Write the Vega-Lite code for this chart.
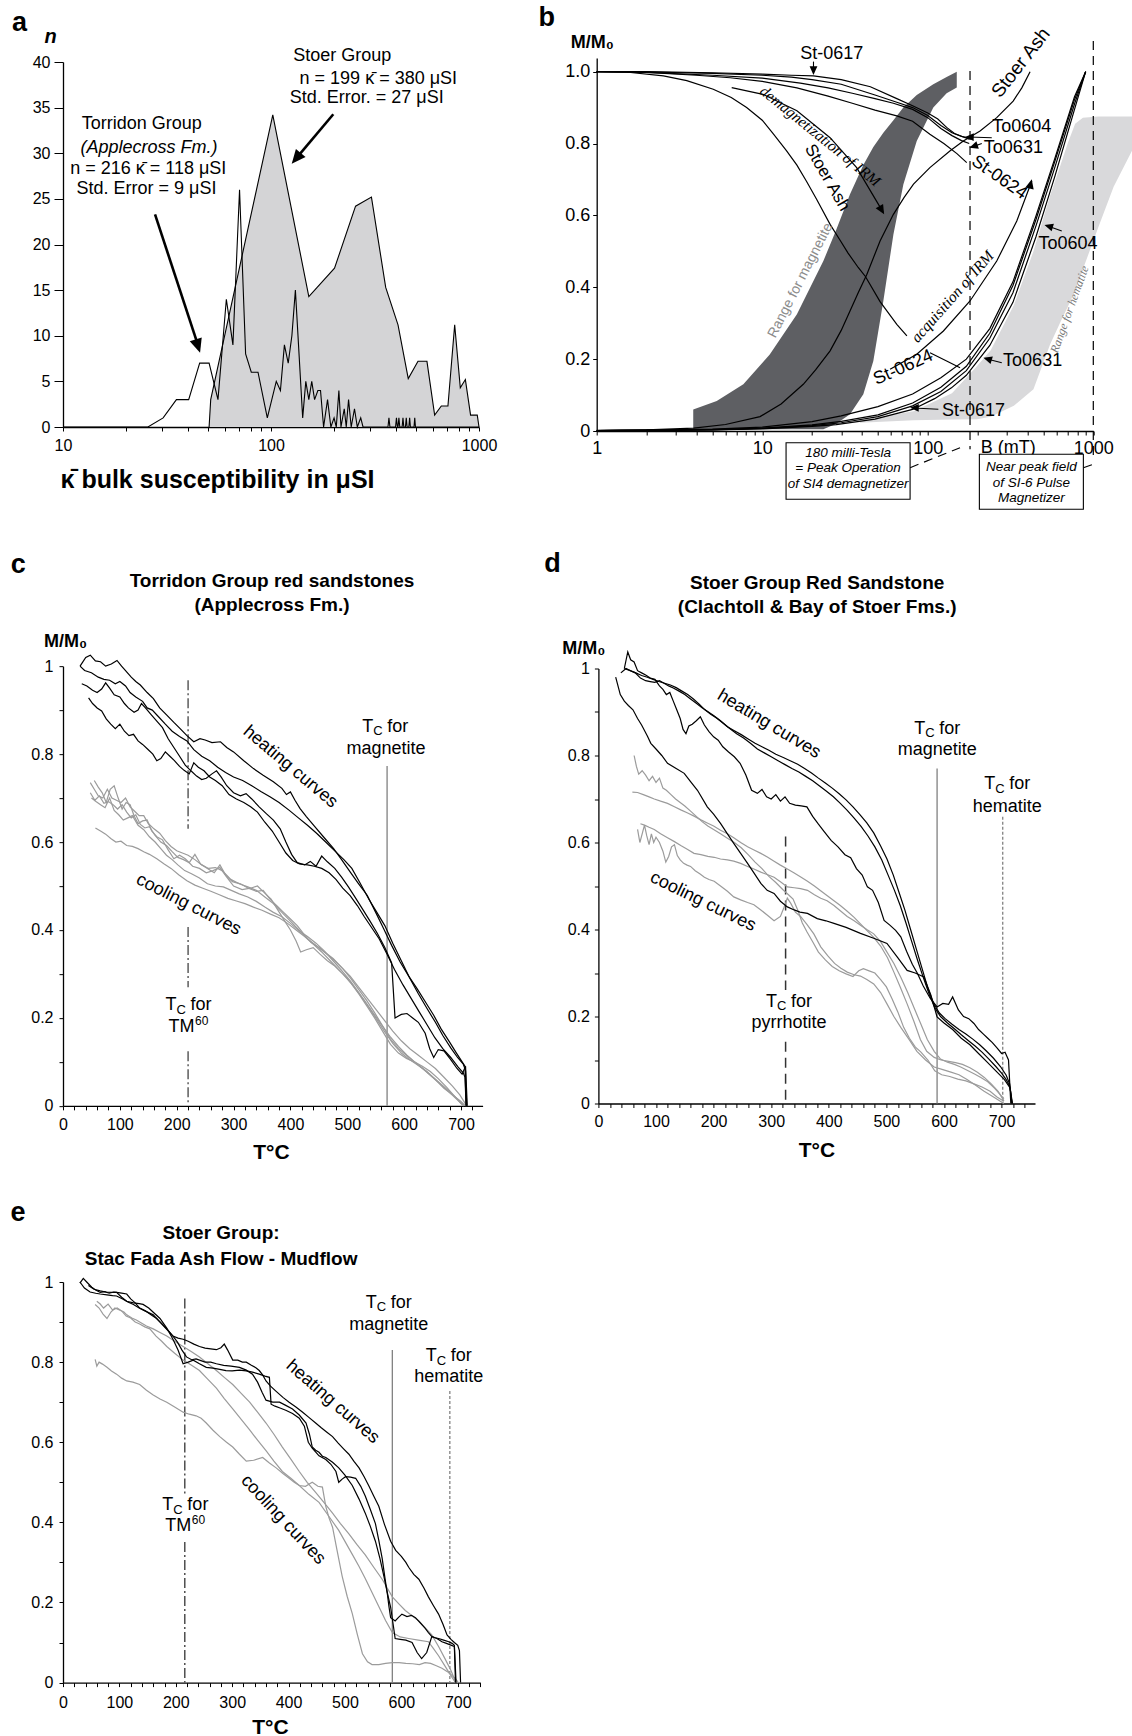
{
"$schema": "https://vega.github.io/schema/vega-lite/v6.json",
"padding": {"left": 10, "top": 4, "right": 0, "bottom": 4},
"config": {
 "view": {"stroke": null},
 "font": "Liberation Sans",
 "axis": {"labelFont": "Liberation Sans", "titleFont": "Liberation Sans", "labelFontSize": 16, "labelColor": "#000", "titleColor": "#000", "domainColor": "#000", "tickColor": "#000", "domainWidth": 1.3, "tickWidth": 1, "grid": false, "labelFlush": false, "labelOverlap": false, "labelBound": false, "titleFontWeight": "bold"},
 "text": {"font": "Liberation Sans", "fontSize": 18, "color": "#000"}
},
"datasets": {
 "aStoer": [{"x":50.4,"y":0},{"x":51.3,"y":3},{"x":102,"y":34.2},{"x":152,"y":14.3},{"x":202,"y":17.4},{"x":255,"y":24.2},{"x":304,"y":25.2},{"x":356,"y":15.3},{"x":408,"y":11.2},{"x":457,"y":5.3},{"x":509,"y":7.2},{"x":562,"y":7.2},{"x":612,"y":1.3},{"x":659,"y":2.3},{"x":709,"y":2.3},{"x":764,"y":11.2},{"x":813,"y":4.3},{"x":860,"y":5.2},{"x":911,"y":1.3},{"x":981,"y":1.3},{"x":1000,"y":0}],
 "aTorr": [{"x":10,"y":0},{"x":25.6,"y":0},{"x":30.3,"y":1},{"x":35.1,"y":3},{"x":40.2,"y":3},{"x":45.4,"y":7},{"x":50.4,"y":7},{"x":55.6,"y":3},{"x":61,"y":14},{"x":65.6,"y":9},{"x":70.6,"y":26},{"x":75.5,"y":8},{"x":80.4,"y":6},{"x":86.6,"y":6},{"x":96,"y":1},{"x":106,"y":5},{"x":111,"y":4},{"x":116,"y":9},{"x":121,"y":7},{"x":126,"y":10},{"x":131,"y":15},{"x":142,"y":1},{"x":147,"y":5},{"x":152,"y":3},{"x":157,"y":5},{"x":162,"y":3},{"x":168,"y":4},{"x":173,"y":4},{"x":179,"y":0},{"x":187,"y":3},{"x":194,"y":0},{"x":201,"y":1},{"x":206,"y":0},{"x":212,"y":4},{"x":217,"y":0},{"x":225,"y":2},{"x":230,"y":0},{"x":236,"y":3},{"x":243,"y":0},{"x":252,"y":2},{"x":260,"y":0},{"x":270,"y":1},{"x":277,"y":0},{"x":365,"y":0},{"x":369,"y":1},{"x":373,"y":0},{"x":397,"y":0},{"x":401,"y":1},{"x":405,"y":0},{"x":408,"y":0},{"x":412,"y":1},{"x":416,"y":0},{"x":427,"y":0},{"x":431,"y":1},{"x":435,"y":0},{"x":443,"y":0},{"x":447,"y":1},{"x":451,"y":0},{"x":460,"y":0},{"x":464,"y":1},{"x":468,"y":0},{"x":487,"y":0},{"x":491,"y":1},{"x":495,"y":0},{"x":1000,"y":0}],
 "bMag": [{"x":3.83,"y":0.06,"y2":0.005},{"x":5.31,"y":0.0835,"y2":0.005},{"x":7.69,"y":0.13,"y2":0.005},{"x":11.1,"y":0.213,"y2":0.005},{"x":16.2,"y":0.325,"y2":0.005},{"x":23.4,"y":0.473,"y2":0.005},{"x":28,"y":0.56,"y2":0.02},{"x":33.9,"y":0.659,"y2":0.0464},{"x":40.8,"y":0.74,"y2":0.102},{"x":46.9,"y":0.79,"y2":0.195},{"x":53.9,"y":0.83,"y2":0.362},{"x":62,"y":0.865,"y2":0.547},{"x":71.2,"y":0.9,"y2":0.686},{"x":85.8,"y":0.935,"y2":0.807},{"x":108,"y":0.965,"y2":0.9},{"x":130,"y":0.985,"y2":0.94},{"x":149.7,"y":1.0,"y2":0.956}],
 "bHem": [{"x":39,"y":0.03,"y2":0.023},{"x":82,"y":0.055,"y2":0.03},{"x":140,"y":0.105,"y2":0.032},{"x":198,"y":0.18,"y2":0.033},{"x":240,"y":0.225,"y2":0.04},{"x":331,"y":0.35,"y2":0.07},{"x":435,"y":0.5,"y2":0.116},{"x":548,"y":0.655,"y2":0.241},{"x":628,"y":0.735,"y2":0.3},{"x":700,"y":0.8,"y2":0.345},{"x":777,"y":0.855,"y2":0.39},{"x":865,"y":0.872,"y2":0.45},{"x":1071,"y":0.875,"y2":0.566},{"x":1327,"y":0.875,"y2":0.68},{"x":1714,"y":0.875,"y2":0.78}],
 "bCurves": [
  {"id":"d1","x":1,"y":1.0},{"id":"d1","x":2,"y":1.0},{"id":"d1","x":5,"y":0.997},{"id":"d1","x":10,"y":0.993},{"id":"d1","x":15,"y":0.99},{"id":"d1","x":20.4,"y":0.988},{"id":"d1","x":30,"y":0.978},{"id":"d1","x":45,"y":0.958},{"id":"d1","x":65,"y":0.925},{"id":"d1","x":81,"y":0.905},{"id":"d1","x":100,"y":0.885},{"id":"d1","x":115,"y":0.868},{"id":"d1","x":130,"y":0.845},{"id":"d1","x":145,"y":0.828},{"id":"d1","x":164,"y":0.818},{"id":"d1","x":178,"y":0.812},
  {"id":"d2","x":1,"y":1.0},{"id":"d2","x":2,"y":0.999},{"id":"d2","x":5,"y":0.995},{"id":"d2","x":10,"y":0.99},{"id":"d2","x":15,"y":0.985},{"id":"d2","x":20,"y":0.978},{"id":"d2","x":30,"y":0.965},{"id":"d2","x":48,"y":0.935},{"id":"d2","x":65,"y":0.915},{"id":"d2","x":81,"y":0.9},{"id":"d2","x":100,"y":0.878},{"id":"d2","x":120,"y":0.85},{"id":"d2","x":140,"y":0.83},{"id":"d2","x":160,"y":0.82},{"id":"d2","x":178,"y":0.815},
  {"id":"d3","x":1,"y":1.0},{"id":"d3","x":2,"y":0.998},{"id":"d3","x":5,"y":0.99},{"id":"d3","x":10,"y":0.982},{"id":"d3","x":17,"y":0.968},{"id":"d3","x":25,"y":0.955},{"id":"d3","x":35,"y":0.94},{"id":"d3","x":48,"y":0.925},{"id":"d3","x":62,"y":0.912},{"id":"d3","x":81,"y":0.895},{"id":"d3","x":100,"y":0.872},{"id":"d3","x":120,"y":0.842},{"id":"d3","x":140,"y":0.822},{"id":"d3","x":160,"y":0.808},{"id":"d3","x":178,"y":0.8},
  {"id":"d4","x":1,"y":1.0},{"id":"d4","x":2,"y":0.998},{"id":"d4","x":4,"y":0.99},{"id":"d4","x":6.4,"y":0.983},{"id":"d4","x":10,"y":0.973},{"id":"d4","x":16.2,"y":0.955},{"id":"d4","x":25,"y":0.932},{"id":"d4","x":35,"y":0.912},{"id":"d4","x":48,"y":0.893},{"id":"d4","x":65,"y":0.877},{"id":"d4","x":81,"y":0.862},{"id":"d4","x":103,"y":0.826},{"id":"d4","x":125,"y":0.8},{"id":"d4","x":150,"y":0.772},{"id":"d4","x":172,"y":0.747},
  {"id":"d5","x":1,"y":1.0},{"id":"d5","x":1.5,"y":0.999},{"id":"d5","x":2.53,"y":0.988},{"id":"d5","x":3.5,"y":0.975},{"id":"d5","x":5.06,"y":0.951},{"id":"d5","x":6.5,"y":0.928},{"id":"d5","x":8.05,"y":0.9},{"id":"d5","x":10,"y":0.865},{"id":"d5","x":11.7,"y":0.826},{"id":"d5","x":14,"y":0.78},{"id":"d5","x":16.2,"y":0.74},{"id":"d5","x":18.5,"y":0.695},{"id":"d5","x":21.3,"y":0.645},{"id":"d5","x":25.7,"y":0.575},{"id":"d5","x":29.6,"y":0.53},{"id":"d5","x":33,"y":0.495},{"id":"d5","x":38,"y":0.455},{"id":"d5","x":42,"y":0.43},{"id":"d5","x":51.5,"y":0.36},{"id":"d5","x":65,"y":0.297},{"id":"d5","x":74.8,"y":0.265},
  {"id":"a1","x":1,"y":0.001},{"id":"a1","x":3,"y":0.002},{"id":"a1","x":5,"y":0.003},{"id":"a1","x":10,"y":0.006},{"id":"a1","x":20,"y":0.013},{"id":"a1","x":28,"y":0.018},{"id":"a1","x":48,"y":0.033},{"id":"a1","x":81,"y":0.06},{"id":"a1","x":110,"y":0.09},{"id":"a1","x":139,"y":0.12},{"id":"a1","x":171,"y":0.155},{"id":"a1","x":237,"y":0.238},{"id":"a1","x":327,"y":0.358},{"id":"a1","x":450,"y":0.54},{"id":"a1","x":587,"y":0.71},{"id":"a1","x":770,"y":0.895},{"id":"a1","x":899,"y":1.0},
  {"id":"a2","x":1,"y":0.001},{"id":"a2","x":5,"y":0.003},{"id":"a2","x":10,"y":0.007},{"id":"a2","x":20,"y":0.015},{"id":"a2","x":30,"y":0.023},{"id":"a2","x":50,"y":0.04},{"id":"a2","x":81,"y":0.07},{"id":"a2","x":120,"y":0.11},{"id":"a2","x":171,"y":0.168},{"id":"a2","x":237,"y":0.258},{"id":"a2","x":327,"y":0.385},{"id":"a2","x":450,"y":0.57},{"id":"a2","x":587,"y":0.735},{"id":"a2","x":770,"y":0.91},{"id":"a2","x":899,"y":1.0},
  {"id":"a3","x":1,"y":0.001},{"id":"a3","x":5,"y":0.004},{"id":"a3","x":10,"y":0.008},{"id":"a3","x":20,"y":0.017},{"id":"a3","x":30,"y":0.027},{"id":"a3","x":50,"y":0.045},{"id":"a3","x":81,"y":0.078},{"id":"a3","x":120,"y":0.122},{"id":"a3","x":171,"y":0.18},{"id":"a3","x":237,"y":0.272},{"id":"a3","x":327,"y":0.405},{"id":"a3","x":450,"y":0.588},{"id":"a3","x":587,"y":0.752},{"id":"a3","x":770,"y":0.922},{"id":"a3","x":899,"y":1.0},
  {"id":"a4","x":1,"y":0.001},{"id":"a4","x":5,"y":0.005},{"id":"a4","x":10,"y":0.011},{"id":"a4","x":20,"y":0.026},{"id":"a4","x":30,"y":0.042},{"id":"a4","x":50,"y":0.068},{"id":"a4","x":81,"y":0.103},{"id":"a4","x":120,"y":0.148},{"id":"a4","x":171,"y":0.2},{"id":"a4","x":237,"y":0.285},{"id":"a4","x":327,"y":0.415},{"id":"a4","x":450,"y":0.598},{"id":"a4","x":587,"y":0.76},{"id":"a4","x":770,"y":0.93},{"id":"a4","x":899,"y":1.0},
  {"id":"a5","x":1,"y":0.002},{"id":"a5","x":2,"y":0.003},{"id":"a5","x":3.85,"y":0.008},{"id":"a5","x":6,"y":0.018},{"id":"a5","x":9.7,"y":0.04},{"id":"a5","x":13,"y":0.075},{"id":"a5","x":17.7,"y":0.13},{"id":"a5","x":21,"y":0.17},{"id":"a5","x":25.7,"y":0.223},{"id":"a5","x":30,"y":0.28},{"id":"a5","x":33.9,"y":0.334},{"id":"a5","x":38,"y":0.385},{"id":"a5","x":42.9,"y":0.436},{"id":"a5","x":51.5,"y":0.529},{"id":"a5","x":62,"y":0.603},{"id":"a5","x":72,"y":0.65},{"id":"a5","x":82,"y":0.687},{"id":"a5","x":103,"y":0.733},{"id":"a5","x":136,"y":0.779},{"id":"a5","x":164,"y":0.807},{"id":"a5","x":207,"y":0.835},{"id":"a5","x":261,"y":0.872},{"id":"a5","x":328,"y":0.918},{"id":"a5","x":370,"y":0.955},{"id":"a5","x":415,"y":1.0},
  {"id":"r1","x":6.54,"y":0.9555},{"id":"r1","x":10.1,"y":0.937},{"id":"r1","x":16.2,"y":0.891},{"id":"r1","x":25.7,"y":0.8163},{"id":"r1","x":37.2,"y":0.7328},{"id":"r1","x":53.9,"y":0.6076},
  {"id":"r2","x":59.2,"y":0.1717},{"id":"r2","x":85.8,"y":0.2135},{"id":"r2","x":124.3,"y":0.2783},{"id":"r2","x":180,"y":0.3618},{"id":"r2","x":261,"y":0.4731},{"id":"r2","x":345,"y":0.5845},{"id":"r2","x":425,"y":0.6958},
  {"id":"r3","x":103.2,"y":0.218},{"id":"r3","x":130,"y":0.195},{"id":"r3","x":156.7,"y":0.176}
 ],
 "cCurves": [
  {"id":"h1","x":30,"y":1.0},{"id":"h1","x":40,"y":1.02},{"id":"h1","x":48,"y":1.025},{"id":"h1","x":57,"y":1.012},{"id":"h1","x":66,"y":1.01},{"id":"h1","x":75,"y":1.0},{"id":"h1","x":85,"y":1.005},{"id":"h1","x":95,"y":1.013},{"id":"h1","x":103,"y":1.0},{"id":"h1","x":110,"y":0.99},{"id":"h1","x":120,"y":0.975},{"id":"h1","x":128,"y":0.965},{"id":"h1","x":136,"y":0.957},{"id":"h1","x":148,"y":0.94},{"id":"h1","x":159,"y":0.926},{"id":"h1","x":170,"y":0.905},{"id":"h1","x":183,"y":0.888},{"id":"h1","x":195,"y":0.872},{"id":"h1","x":206,"y":0.858},{"id":"h1","x":218,"y":0.842},{"id":"h1","x":230,"y":0.828},{"id":"h1","x":241,"y":0.835},{"id":"h1","x":250,"y":0.832},{"id":"h1","x":262,"y":0.826},{"id":"h1","x":277,"y":0.828},{"id":"h1","x":288,"y":0.815},{"id":"h1","x":300,"y":0.805},{"id":"h1","x":318,"y":0.785},{"id":"h1","x":335,"y":0.767},{"id":"h1","x":352,"y":0.752},{"id":"h1","x":370,"y":0.737},{"id":"h1","x":385,"y":0.722},{"id":"h1","x":393,"y":0.708},{"id":"h1","x":400,"y":0.714},{"id":"h1","x":408,"y":0.695},{"id":"h1","x":417,"y":0.676},{"id":"h1","x":428,"y":0.658},{"id":"h1","x":441,"y":0.638},{"id":"h1","x":458,"y":0.612},{"id":"h1","x":476,"y":0.585},{"id":"h1","x":490,"y":0.56},{"id":"h1","x":505,"y":0.532},{"id":"h1","x":520,"y":0.505},{"id":"h1","x":535,"y":0.479},{"id":"h1","x":550,"y":0.44},{"id":"h1","x":564,"y":0.403},{"id":"h1","x":578,"y":0.365},{"id":"h1","x":593,"y":0.327},{"id":"h1","x":608,"y":0.295},{"id":"h1","x":623,"y":0.266},{"id":"h1","x":638,"y":0.235},{"id":"h1","x":652,"y":0.206},{"id":"h1","x":665,"y":0.175},{"id":"h1","x":680,"y":0.145},{"id":"h1","x":692,"y":0.12},{"id":"h1","x":702,"y":0.1},{"id":"h1","x":707,"y":0.09},{"id":"h1","x":709,"y":0.0},
  {"id":"h2","x":30,"y":1.0},{"id":"h2","x":38,"y":0.99},{"id":"h2","x":50,"y":0.985},{"id":"h2","x":62,"y":0.975},{"id":"h2","x":72,"y":0.97},{"id":"h2","x":82,"y":0.968},{"id":"h2","x":92,"y":0.96},{"id":"h2","x":100,"y":0.965},{"id":"h2","x":110,"y":0.955},{"id":"h2","x":118,"y":0.94},{"id":"h2","x":128,"y":0.93},{"id":"h2","x":140,"y":0.92},{"id":"h2","x":148,"y":0.905},{"id":"h2","x":157,"y":0.9},{"id":"h2","x":168,"y":0.885},{"id":"h2","x":180,"y":0.868},{"id":"h2","x":192,"y":0.852},{"id":"h2","x":205,"y":0.84},{"id":"h2","x":218,"y":0.83},{"id":"h2","x":230,"y":0.81},{"id":"h2","x":244,"y":0.795},{"id":"h2","x":258,"y":0.785},{"id":"h2","x":272,"y":0.77},{"id":"h2","x":286,"y":0.758},{"id":"h2","x":300,"y":0.748},{"id":"h2","x":316,"y":0.74},{"id":"h2","x":332,"y":0.728},{"id":"h2","x":348,"y":0.715},{"id":"h2","x":364,"y":0.703},{"id":"h2","x":380,"y":0.69},{"id":"h2","x":398,"y":0.672},{"id":"h2","x":414,"y":0.655},{"id":"h2","x":430,"y":0.638},{"id":"h2","x":446,"y":0.62},{"id":"h2","x":462,"y":0.6},{"id":"h2","x":478,"y":0.58},{"id":"h2","x":494,"y":0.56},{"id":"h2","x":508,"y":0.54},{"id":"h2","x":522,"y":0.508},{"id":"h2","x":538,"y":0.47},{"id":"h2","x":552,"y":0.44},{"id":"h2","x":566,"y":0.41},{"id":"h2","x":580,"y":0.37},{"id":"h2","x":595,"y":0.33},{"id":"h2","x":610,"y":0.29},{"id":"h2","x":625,"y":0.255},{"id":"h2","x":640,"y":0.222},{"id":"h2","x":655,"y":0.19},{"id":"h2","x":668,"y":0.16},{"id":"h2","x":682,"y":0.132},{"id":"h2","x":694,"y":0.11},{"id":"h2","x":704,"y":0.095},{"id":"h2","x":708,"y":0.08},{"id":"h2","x":710,"y":0.0},
  {"id":"h3","x":33,"y":0.96},{"id":"h3","x":42,"y":0.955},{"id":"h3","x":52,"y":0.945},{"id":"h3","x":60,"y":0.94},{"id":"h3","x":68,"y":0.948},{"id":"h3","x":75,"y":0.962},{"id":"h3","x":82,"y":0.95},{"id":"h3","x":90,"y":0.935},{"id":"h3","x":100,"y":0.93},{"id":"h3","x":108,"y":0.915},{"id":"h3","x":115,"y":0.905},{"id":"h3","x":125,"y":0.895},{"id":"h3","x":132,"y":0.9},{"id":"h3","x":138,"y":0.915},{"id":"h3","x":145,"y":0.905},{"id":"h3","x":155,"y":0.89},{"id":"h3","x":165,"y":0.875},{"id":"h3","x":175,"y":0.86},{"id":"h3","x":185,"y":0.835},{"id":"h3","x":195,"y":0.815},{"id":"h3","x":205,"y":0.795},{"id":"h3","x":215,"y":0.775},{"id":"h3","x":225,"y":0.762},{"id":"h3","x":235,"y":0.75},{"id":"h3","x":244,"y":0.742},{"id":"h3","x":252,"y":0.745},{"id":"h3","x":262,"y":0.755},{"id":"h3","x":270,"y":0.762},{"id":"h3","x":278,"y":0.748},{"id":"h3","x":288,"y":0.728},{"id":"h3","x":300,"y":0.712},{"id":"h3","x":312,"y":0.705},{"id":"h3","x":322,"y":0.71},{"id":"h3","x":332,"y":0.698},{"id":"h3","x":345,"y":0.68},{"id":"h3","x":358,"y":0.664},{"id":"h3","x":370,"y":0.65},{"id":"h3","x":382,"y":0.63},{"id":"h3","x":392,"y":0.6},{"id":"h3","x":402,"y":0.572},{"id":"h3","x":412,"y":0.553},{"id":"h3","x":425,"y":0.548},{"id":"h3","x":435,"y":0.556},{"id":"h3","x":445,"y":0.545},{"id":"h3","x":455,"y":0.568},{"id":"h3","x":465,"y":0.555},{"id":"h3","x":478,"y":0.54},{"id":"h3","x":490,"y":0.52},{"id":"h3","x":502,"y":0.498},{"id":"h3","x":515,"y":0.472},{"id":"h3","x":528,"y":0.445},{"id":"h3","x":540,"y":0.42},{"id":"h3","x":553,"y":0.392},{"id":"h3","x":566,"y":0.36},{"id":"h3","x":578,"y":0.325},{"id":"h3","x":584,"y":0.2},{"id":"h3","x":595,"y":0.208},{"id":"h3","x":605,"y":0.21},{"id":"h3","x":615,"y":0.2},{"id":"h3","x":625,"y":0.19},{"id":"h3","x":637,"y":0.165},{"id":"h3","x":645,"y":0.13},{"id":"h3","x":652,"y":0.11},{"id":"h3","x":660,"y":0.128},{"id":"h3","x":670,"y":0.125},{"id":"h3","x":682,"y":0.105},{"id":"h3","x":693,"y":0.085},{"id":"h3","x":702,"y":0.072},{"id":"h3","x":708,"y":0.09},{"id":"h3","x":711,"y":0.0},
  {"id":"h4","x":45,"y":0.928},{"id":"h4","x":52,"y":0.915},{"id":"h4","x":60,"y":0.905},{"id":"h4","x":68,"y":0.898},{"id":"h4","x":76,"y":0.88},{"id":"h4","x":84,"y":0.868},{"id":"h4","x":92,"y":0.858},{"id":"h4","x":100,"y":0.868},{"id":"h4","x":108,"y":0.852},{"id":"h4","x":116,"y":0.842},{"id":"h4","x":124,"y":0.845},{"id":"h4","x":132,"y":0.83},{"id":"h4","x":140,"y":0.822},{"id":"h4","x":150,"y":0.81},{"id":"h4","x":158,"y":0.8},{"id":"h4","x":165,"y":0.785},{"id":"h4","x":172,"y":0.79},{"id":"h4","x":180,"y":0.805},{"id":"h4","x":188,"y":0.795},{"id":"h4","x":196,"y":0.785},{"id":"h4","x":205,"y":0.772},{"id":"h4","x":213,"y":0.763},{"id":"h4","x":222,"y":0.755},{"id":"h4","x":230,"y":0.78},{"id":"h4","x":238,"y":0.77},{"id":"h4","x":248,"y":0.762},{"id":"h4","x":258,"y":0.748},{"id":"h4","x":268,"y":0.74},{"id":"h4","x":280,"y":0.728},{"id":"h4","x":292,"y":0.708},{"id":"h4","x":305,"y":0.698},{"id":"h4","x":318,"y":0.69},{"id":"h4","x":330,"y":0.68},{"id":"h4","x":342,"y":0.668},{"id":"h4","x":355,"y":0.645},{"id":"h4","x":368,"y":0.625},{"id":"h4","x":380,"y":0.6},{"id":"h4","x":392,"y":0.575},{"id":"h4","x":404,"y":0.558},{"id":"h4","x":416,"y":0.55},{"id":"h4","x":430,"y":0.548},{"id":"h4","x":442,"y":0.545},{"id":"h4","x":455,"y":0.54},{"id":"h4","x":468,"y":0.53},{"id":"h4","x":480,"y":0.515},{"id":"h4","x":492,"y":0.495},{"id":"h4","x":505,"y":0.478},{"id":"h4","x":518,"y":0.455},{"id":"h4","x":530,"y":0.43},{"id":"h4","x":543,"y":0.405},{"id":"h4","x":556,"y":0.38},{"id":"h4","x":570,"y":0.345},{"id":"h4","x":583,"y":0.31},{"id":"h4","x":598,"y":0.275},{"id":"h4","x":612,"y":0.245},{"id":"h4","x":626,"y":0.215},{"id":"h4","x":640,"y":0.185},{"id":"h4","x":654,"y":0.155},{"id":"h4","x":668,"y":0.13},{"id":"h4","x":682,"y":0.11},{"id":"h4","x":695,"y":0.088},{"id":"h4","x":704,"y":0.075},{"id":"h4","x":707,"y":0.065},{"id":"h4","x":709,"y":0.0},
  {"id":"g1","x":48,"y":0.735},{"id":"g1","x":55,"y":0.72},{"id":"g1","x":62,"y":0.705},{"id":"g1","x":70,"y":0.7},{"id":"g1","x":78,"y":0.72},{"id":"g1","x":86,"y":0.7},{"id":"g1","x":94,"y":0.695},{"id":"g1","x":102,"y":0.69},{"id":"g1","x":110,"y":0.7},{"id":"g1","x":118,"y":0.68},{"id":"g1","x":126,"y":0.67},{"id":"g1","x":134,"y":0.66},{"id":"g1","x":142,"y":0.66},{"id":"g1","x":150,"y":0.642},{"id":"g1","x":160,"y":0.63},{"id":"g1","x":170,"y":0.62},{"id":"g1","x":180,"y":0.603},{"id":"g1","x":190,"y":0.59},{"id":"g1","x":200,"y":0.58},{"id":"g1","x":210,"y":0.575},{"id":"g1","x":220,"y":0.57},{"id":"g1","x":232,"y":0.56},{"id":"g1","x":244,"y":0.548},{"id":"g1","x":256,"y":0.54},{"id":"g1","x":268,"y":0.542},{"id":"g1","x":280,"y":0.535},{"id":"g1","x":295,"y":0.515},{"id":"g1","x":310,"y":0.505},{"id":"g1","x":325,"y":0.498},{"id":"g1","x":340,"y":0.49},{"id":"g1","x":355,"y":0.475},{"id":"g1","x":370,"y":0.46},{"id":"g1","x":385,"y":0.44},{"id":"g1","x":400,"y":0.42},{"id":"g1","x":415,"y":0.4},{"id":"g1","x":430,"y":0.38},{"id":"g1","x":445,"y":0.365},{"id":"g1","x":460,"y":0.35},{"id":"g1","x":475,"y":0.335},{"id":"g1","x":490,"y":0.315},{"id":"g1","x":505,"y":0.295},{"id":"g1","x":520,"y":0.27},{"id":"g1","x":535,"y":0.245},{"id":"g1","x":550,"y":0.22},{"id":"g1","x":565,"y":0.195},{"id":"g1","x":580,"y":0.17},{"id":"g1","x":595,"y":0.148},{"id":"g1","x":610,"y":0.13},{"id":"g1","x":625,"y":0.115},{"id":"g1","x":640,"y":0.1},{"id":"g1","x":655,"y":0.085},{"id":"g1","x":670,"y":0.065},{"id":"g1","x":685,"y":0.045},{"id":"g1","x":698,"y":0.025},{"id":"g1","x":710,"y":0.0},
  {"id":"g2","x":55,"y":0.74},{"id":"g2","x":62,"y":0.725},{"id":"g2","x":69,"y":0.712},{"id":"g2","x":76,"y":0.69},{"id":"g2","x":83,"y":0.72},{"id":"g2","x":90,"y":0.728},{"id":"g2","x":97,"y":0.7},{"id":"g2","x":104,"y":0.675},{"id":"g2","x":111,"y":0.69},{"id":"g2","x":118,"y":0.685},{"id":"g2","x":125,"y":0.66},{"id":"g2","x":132,"y":0.642},{"id":"g2","x":140,"y":0.648},{"id":"g2","x":148,"y":0.65},{"id":"g2","x":156,"y":0.625},{"id":"g2","x":165,"y":0.612},{"id":"g2","x":175,"y":0.605},{"id":"g2","x":185,"y":0.582},{"id":"g2","x":195,"y":0.562},{"id":"g2","x":205,"y":0.57},{"id":"g2","x":215,"y":0.562},{"id":"g2","x":228,"y":0.545},{"id":"g2","x":240,"y":0.54},{"id":"g2","x":252,"y":0.53},{"id":"g2","x":264,"y":0.535},{"id":"g2","x":276,"y":0.542},{"id":"g2","x":288,"y":0.52},{"id":"g2","x":300,"y":0.5},{"id":"g2","x":315,"y":0.492},{"id":"g2","x":330,"y":0.495},{"id":"g2","x":342,"y":0.5},{"id":"g2","x":354,"y":0.485},{"id":"g2","x":366,"y":0.47},{"id":"g2","x":378,"y":0.445},{"id":"g2","x":390,"y":0.42},{"id":"g2","x":400,"y":0.4},{"id":"g2","x":410,"y":0.375},{"id":"g2","x":418,"y":0.35},{"id":"g2","x":428,"y":0.355},{"id":"g2","x":440,"y":0.36},{"id":"g2","x":452,"y":0.345},{"id":"g2","x":465,"y":0.33},{"id":"g2","x":478,"y":0.318},{"id":"g2","x":492,"y":0.3},{"id":"g2","x":506,"y":0.28},{"id":"g2","x":520,"y":0.255},{"id":"g2","x":534,"y":0.228},{"id":"g2","x":548,"y":0.2},{"id":"g2","x":562,"y":0.17},{"id":"g2","x":576,"y":0.14},{"id":"g2","x":590,"y":0.12},{"id":"g2","x":604,"y":0.108},{"id":"g2","x":618,"y":0.1},{"id":"g2","x":632,"y":0.09},{"id":"g2","x":646,"y":0.078},{"id":"g2","x":660,"y":0.062},{"id":"g2","x":675,"y":0.042},{"id":"g2","x":690,"y":0.02},{"id":"g2","x":700,"y":0.005},{"id":"g2","x":705,"y":0.0},
  {"id":"g3","x":50,"y":0.7},{"id":"g3","x":58,"y":0.692},{"id":"g3","x":66,"y":0.685},{"id":"g3","x":74,"y":0.678},{"id":"g3","x":82,"y":0.7},{"id":"g3","x":90,"y":0.672},{"id":"g3","x":98,"y":0.662},{"id":"g3","x":106,"y":0.65},{"id":"g3","x":114,"y":0.655},{"id":"g3","x":122,"y":0.66},{"id":"g3","x":132,"y":0.638},{"id":"g3","x":142,"y":0.628},{"id":"g3","x":152,"y":0.612},{"id":"g3","x":162,"y":0.6},{"id":"g3","x":172,"y":0.585},{"id":"g3","x":182,"y":0.57},{"id":"g3","x":192,"y":0.56},{"id":"g3","x":202,"y":0.548},{"id":"g3","x":214,"y":0.535},{"id":"g3","x":226,"y":0.528},{"id":"g3","x":240,"y":0.518},{"id":"g3","x":254,"y":0.505},{"id":"g3","x":268,"y":0.5},{"id":"g3","x":282,"y":0.498},{"id":"g3","x":296,"y":0.49},{"id":"g3","x":310,"y":0.482},{"id":"g3","x":325,"y":0.475},{"id":"g3","x":340,"y":0.465},{"id":"g3","x":355,"y":0.452},{"id":"g3","x":370,"y":0.44},{"id":"g3","x":385,"y":0.43},{"id":"g3","x":400,"y":0.415},{"id":"g3","x":415,"y":0.398},{"id":"g3","x":430,"y":0.385},{"id":"g3","x":445,"y":0.37},{"id":"g3","x":460,"y":0.352},{"id":"g3","x":475,"y":0.33},{"id":"g3","x":490,"y":0.308},{"id":"g3","x":505,"y":0.285},{"id":"g3","x":520,"y":0.258},{"id":"g3","x":535,"y":0.23},{"id":"g3","x":550,"y":0.2},{"id":"g3","x":565,"y":0.17},{"id":"g3","x":580,"y":0.142},{"id":"g3","x":595,"y":0.12},{"id":"g3","x":610,"y":0.105},{"id":"g3","x":625,"y":0.092},{"id":"g3","x":640,"y":0.078},{"id":"g3","x":655,"y":0.06},{"id":"g3","x":670,"y":0.04},{"id":"g3","x":685,"y":0.025},{"id":"g3","x":700,"y":0.01},{"id":"g3","x":708,"y":0.0},
  {"id":"g4","x":57,"y":0.632},{"id":"g4","x":66,"y":0.625},{"id":"g4","x":75,"y":0.618},{"id":"g4","x":84,"y":0.608},{"id":"g4","x":93,"y":0.6},{"id":"g4","x":102,"y":0.602},{"id":"g4","x":112,"y":0.592},{"id":"g4","x":122,"y":0.59},{"id":"g4","x":132,"y":0.585},{"id":"g4","x":142,"y":0.578},{"id":"g4","x":152,"y":0.572},{"id":"g4","x":165,"y":0.562},{"id":"g4","x":178,"y":0.55},{"id":"g4","x":190,"y":0.54},{"id":"g4","x":204,"y":0.525},{"id":"g4","x":218,"y":0.512},{"id":"g4","x":232,"y":0.502},{"id":"g4","x":246,"y":0.495},{"id":"g4","x":260,"y":0.488},{"id":"g4","x":275,"y":0.48},{"id":"g4","x":290,"y":0.472},{"id":"g4","x":305,"y":0.466},{"id":"g4","x":320,"y":0.46},{"id":"g4","x":335,"y":0.452},{"id":"g4","x":350,"y":0.445},{"id":"g4","x":365,"y":0.436},{"id":"g4","x":380,"y":0.428},{"id":"g4","x":395,"y":0.415},{"id":"g4","x":410,"y":0.4},{"id":"g4","x":425,"y":0.385},{"id":"g4","x":440,"y":0.368},{"id":"g4","x":455,"y":0.35},{"id":"g4","x":470,"y":0.33},{"id":"g4","x":485,"y":0.31},{"id":"g4","x":500,"y":0.29},{"id":"g4","x":515,"y":0.265},{"id":"g4","x":530,"y":0.24},{"id":"g4","x":545,"y":0.212},{"id":"g4","x":560,"y":0.185},{"id":"g4","x":575,"y":0.158},{"id":"g4","x":590,"y":0.135},{"id":"g4","x":605,"y":0.115},{"id":"g4","x":620,"y":0.098},{"id":"g4","x":635,"y":0.082},{"id":"g4","x":650,"y":0.065},{"id":"g4","x":665,"y":0.048},{"id":"g4","x":680,"y":0.03},{"id":"g4","x":695,"y":0.012},{"id":"g4","x":705,"y":0.0},
  {"id":"g5","x":48,"y":0.712},{"id":"g5","x":56,"y":0.695},{"id":"g5","x":64,"y":0.705},{"id":"g5","x":72,"y":0.688},{"id":"g5","x":80,"y":0.692},{"id":"g5","x":88,"y":0.685},{"id":"g5","x":96,"y":0.675},{"id":"g5","x":104,"y":0.685},{"id":"g5","x":112,"y":0.668},{"id":"g5","x":120,"y":0.655},{"id":"g5","x":128,"y":0.662},{"id":"g5","x":136,"y":0.64},{"id":"g5","x":144,"y":0.632},{"id":"g5","x":152,"y":0.635},{"id":"g5","x":162,"y":0.615},{"id":"g5","x":172,"y":0.6},{"id":"g5","x":182,"y":0.592},{"id":"g5","x":192,"y":0.578},{"id":"g5","x":202,"y":0.565},{"id":"g5","x":212,"y":0.56},{"id":"g5","x":222,"y":0.553},{"id":"g5","x":232,"y":0.572},{"id":"g5","x":242,"y":0.55},{"id":"g5","x":254,"y":0.54},{"id":"g5","x":266,"y":0.53},{"id":"g5","x":276,"y":0.548},{"id":"g5","x":286,"y":0.525},{"id":"g5","x":298,"y":0.51},{"id":"g5","x":312,"y":0.505},{"id":"g5","x":326,"y":0.495},{"id":"g5","x":340,"y":0.488},{"id":"g5","x":352,"y":0.49},{"id":"g5","x":364,"y":0.47},{"id":"g5","x":376,"y":0.455},{"id":"g5","x":388,"y":0.44},{"id":"g5","x":400,"y":0.425},{"id":"g5","x":412,"y":0.41},{"id":"g5","x":424,"y":0.39},{"id":"g5","x":436,"y":0.372},{"id":"g5","x":450,"y":0.36},{"id":"g5","x":464,"y":0.345},{"id":"g5","x":478,"y":0.33},{"id":"g5","x":492,"y":0.312},{"id":"g5","x":506,"y":0.29},{"id":"g5","x":520,"y":0.265},{"id":"g5","x":534,"y":0.24},{"id":"g5","x":548,"y":0.212},{"id":"g5","x":562,"y":0.182},{"id":"g5","x":576,"y":0.152},{"id":"g5","x":590,"y":0.13},{"id":"g5","x":604,"y":0.115},{"id":"g5","x":618,"y":0.1},{"id":"g5","x":632,"y":0.086},{"id":"g5","x":646,"y":0.07},{"id":"g5","x":660,"y":0.055},{"id":"g5","x":675,"y":0.038},{"id":"g5","x":690,"y":0.02},{"id":"g5","x":706,"y":0.0}
 ],
 "dCurves": [
  {"id":"h1","x":30,"y":0.98},{"id":"h1","x":38,"y":0.94},{"id":"h1","x":45,"y":0.925},{"id":"h1","x":52,"y":0.915},{"id":"h1","x":60,"y":0.905},{"id":"h1","x":68,"y":0.885},{"id":"h1","x":75,"y":0.87},{"id":"h1","x":85,"y":0.845},{"id":"h1","x":91,"y":0.828},{"id":"h1","x":100,"y":0.815},{"id":"h1","x":110,"y":0.8},{"id":"h1","x":120,"y":0.782},{"id":"h1","x":135,"y":0.77},{"id":"h1","x":149,"y":0.759},{"id":"h1","x":160,"y":0.74},{"id":"h1","x":172,"y":0.72},{"id":"h1","x":189,"y":0.682},{"id":"h1","x":200,"y":0.665},{"id":"h1","x":212,"y":0.644},{"id":"h1","x":224,"y":0.62},{"id":"h1","x":235,"y":0.598},{"id":"h1","x":247,"y":0.575},{"id":"h1","x":259,"y":0.552},{"id":"h1","x":270,"y":0.53},{"id":"h1","x":282,"y":0.506},{"id":"h1","x":293,"y":0.49},{"id":"h1","x":305,"y":0.483},{"id":"h1","x":316,"y":0.465},{"id":"h1","x":328,"y":0.452},{"id":"h1","x":340,"y":0.445},{"id":"h1","x":350,"y":0.44},{"id":"h1","x":363,"y":0.437},{"id":"h1","x":380,"y":0.425},{"id":"h1","x":395,"y":0.42},{"id":"h1","x":409,"y":0.414},{"id":"h1","x":430,"y":0.405},{"id":"h1","x":455,"y":0.391},{"id":"h1","x":478,"y":0.38},{"id":"h1","x":501,"y":0.368},{"id":"h1","x":520,"y":0.335},{"id":"h1","x":536,"y":0.306},{"id":"h1","x":550,"y":0.3},{"id":"h1","x":565,"y":0.291},{"id":"h1","x":577,"y":0.25},{"id":"h1","x":588,"y":0.199},{"id":"h1","x":600,"y":0.185},{"id":"h1","x":615,"y":0.17},{"id":"h1","x":630,"y":0.15},{"id":"h1","x":645,"y":0.135},{"id":"h1","x":660,"y":0.115},{"id":"h1","x":675,"y":0.095},{"id":"h1","x":690,"y":0.075},{"id":"h1","x":705,"y":0.055},{"id":"h1","x":715,"y":0.035},{"id":"h1","x":718,"y":0.0},
  {"id":"h2","x":39,"y":0.99},{"id":"h2","x":48,"y":1.0},{"id":"h2","x":56,"y":0.995},{"id":"h2","x":64,"y":0.99},{"id":"h2","x":73,"y":0.978},{"id":"h2","x":82,"y":0.972},{"id":"h2","x":90,"y":0.97},{"id":"h2","x":98,"y":0.968},{"id":"h2","x":106,"y":0.972},{"id":"h2","x":114,"y":0.966},{"id":"h2","x":122,"y":0.96},{"id":"h2","x":130,"y":0.955},{"id":"h2","x":140,"y":0.948},{"id":"h2","x":150,"y":0.94},{"id":"h2","x":160,"y":0.93},{"id":"h2","x":170,"y":0.92},{"id":"h2","x":180,"y":0.91},{"id":"h2","x":189,"y":0.902},{"id":"h2","x":200,"y":0.892},{"id":"h2","x":212,"y":0.88},{"id":"h2","x":224,"y":0.866},{"id":"h2","x":236,"y":0.857},{"id":"h2","x":248,"y":0.848},{"id":"h2","x":260,"y":0.838},{"id":"h2","x":272,"y":0.828},{"id":"h2","x":284,"y":0.82},{"id":"h2","x":296,"y":0.812},{"id":"h2","x":308,"y":0.803},{"id":"h2","x":320,"y":0.796},{"id":"h2","x":333,"y":0.788},{"id":"h2","x":346,"y":0.78},{"id":"h2","x":358,"y":0.77},{"id":"h2","x":370,"y":0.76},{"id":"h2","x":382,"y":0.748},{"id":"h2","x":394,"y":0.737},{"id":"h2","x":406,"y":0.725},{"id":"h2","x":418,"y":0.712},{"id":"h2","x":430,"y":0.698},{"id":"h2","x":442,"y":0.682},{"id":"h2","x":454,"y":0.664},{"id":"h2","x":466,"y":0.645},{"id":"h2","x":478,"y":0.622},{"id":"h2","x":490,"y":0.592},{"id":"h2","x":501,"y":0.562},{"id":"h2","x":512,"y":0.525},{"id":"h2","x":522,"y":0.485},{"id":"h2","x":532,"y":0.445},{"id":"h2","x":542,"y":0.4},{"id":"h2","x":552,"y":0.355},{"id":"h2","x":562,"y":0.31},{"id":"h2","x":572,"y":0.265},{"id":"h2","x":582,"y":0.23},{"id":"h2","x":592,"y":0.208},{"id":"h2","x":602,"y":0.195},{"id":"h2","x":614,"y":0.182},{"id":"h2","x":626,"y":0.17},{"id":"h2","x":638,"y":0.16},{"id":"h2","x":650,"y":0.148},{"id":"h2","x":662,"y":0.135},{"id":"h2","x":674,"y":0.12},{"id":"h2","x":686,"y":0.104},{"id":"h2","x":698,"y":0.085},{"id":"h2","x":708,"y":0.065},{"id":"h2","x":714,"y":0.045},{"id":"h2","x":718,"y":0.0},
  {"id":"h3","x":45,"y":1.0},{"id":"h3","x":51,"y":1.038},{"id":"h3","x":56,"y":1.02},{"id":"h3","x":62,"y":1.015},{"id":"h3","x":68,"y":0.995},{"id":"h3","x":75,"y":0.99},{"id":"h3","x":82,"y":0.985},{"id":"h3","x":90,"y":0.978},{"id":"h3","x":98,"y":0.975},{"id":"h3","x":106,"y":0.96},{"id":"h3","x":112,"y":0.952},{"id":"h3","x":118,"y":0.94},{"id":"h3","x":124,"y":0.945},{"id":"h3","x":130,"y":0.925},{"id":"h3","x":136,"y":0.905},{"id":"h3","x":142,"y":0.885},{"id":"h3","x":147,"y":0.86},{"id":"h3","x":152,"y":0.85},{"id":"h3","x":157,"y":0.868},{"id":"h3","x":163,"y":0.872},{"id":"h3","x":170,"y":0.88},{"id":"h3","x":177,"y":0.889},{"id":"h3","x":184,"y":0.87},{"id":"h3","x":192,"y":0.855},{"id":"h3","x":200,"y":0.843},{"id":"h3","x":208,"y":0.835},{"id":"h3","x":216,"y":0.82},{"id":"h3","x":226,"y":0.808},{"id":"h3","x":236,"y":0.797},{"id":"h3","x":246,"y":0.782},{"id":"h3","x":256,"y":0.755},{"id":"h3","x":266,"y":0.72},{"id":"h3","x":276,"y":0.713},{"id":"h3","x":284,"y":0.722},{"id":"h3","x":292,"y":0.705},{"id":"h3","x":300,"y":0.7},{"id":"h3","x":308,"y":0.71},{"id":"h3","x":316,"y":0.695},{"id":"h3","x":324,"y":0.705},{"id":"h3","x":332,"y":0.69},{"id":"h3","x":342,"y":0.686},{"id":"h3","x":352,"y":0.684},{"id":"h3","x":362,"y":0.682},{"id":"h3","x":372,"y":0.66},{"id":"h3","x":382,"y":0.642},{"id":"h3","x":392,"y":0.625},{"id":"h3","x":404,"y":0.605},{"id":"h3","x":416,"y":0.59},{"id":"h3","x":428,"y":0.572},{"id":"h3","x":438,"y":0.565},{"id":"h3","x":448,"y":0.54},{"id":"h3","x":458,"y":0.525},{"id":"h3","x":467,"y":0.498},{"id":"h3","x":476,"y":0.49},{"id":"h3","x":486,"y":0.462},{"id":"h3","x":496,"y":0.421},{"id":"h3","x":506,"y":0.41},{"id":"h3","x":516,"y":0.398},{"id":"h3","x":525,"y":0.383},{"id":"h3","x":535,"y":0.35},{"id":"h3","x":545,"y":0.32},{"id":"h3","x":554,"y":0.299},{"id":"h3","x":564,"y":0.27},{"id":"h3","x":576,"y":0.242},{"id":"h3","x":588,"y":0.222},{"id":"h3","x":598,"y":0.23},{"id":"h3","x":608,"y":0.228},{"id":"h3","x":615,"y":0.245},{"id":"h3","x":625,"y":0.215},{"id":"h3","x":634,"y":0.2},{"id":"h3","x":643,"y":0.195},{"id":"h3","x":652,"y":0.184},{"id":"h3","x":660,"y":0.17},{"id":"h3","x":668,"y":0.16},{"id":"h3","x":676,"y":0.15},{"id":"h3","x":684,"y":0.14},{"id":"h3","x":692,"y":0.128},{"id":"h3","x":700,"y":0.115},{"id":"h3","x":706,"y":0.118},{"id":"h3","x":712,"y":0.1},{"id":"h3","x":716,"y":0.0},
  {"id":"h4","x":45,"y":1.0},{"id":"h4","x":55,"y":0.995},{"id":"h4","x":65,"y":0.99},{"id":"h4","x":75,"y":0.984},{"id":"h4","x":85,"y":0.98},{"id":"h4","x":95,"y":0.975},{"id":"h4","x":105,"y":0.97},{"id":"h4","x":115,"y":0.966},{"id":"h4","x":125,"y":0.962},{"id":"h4","x":135,"y":0.956},{"id":"h4","x":145,"y":0.948},{"id":"h4","x":155,"y":0.94},{"id":"h4","x":165,"y":0.93},{"id":"h4","x":175,"y":0.918},{"id":"h4","x":185,"y":0.905},{"id":"h4","x":195,"y":0.895},{"id":"h4","x":205,"y":0.886},{"id":"h4","x":215,"y":0.876},{"id":"h4","x":228,"y":0.862},{"id":"h4","x":240,"y":0.85},{"id":"h4","x":252,"y":0.84},{"id":"h4","x":264,"y":0.828},{"id":"h4","x":276,"y":0.815},{"id":"h4","x":288,"y":0.806},{"id":"h4","x":300,"y":0.797},{"id":"h4","x":312,"y":0.788},{"id":"h4","x":324,"y":0.779},{"id":"h4","x":336,"y":0.77},{"id":"h4","x":348,"y":0.762},{"id":"h4","x":360,"y":0.752},{"id":"h4","x":372,"y":0.742},{"id":"h4","x":384,"y":0.73},{"id":"h4","x":396,"y":0.718},{"id":"h4","x":408,"y":0.705},{"id":"h4","x":420,"y":0.69},{"id":"h4","x":432,"y":0.674},{"id":"h4","x":444,"y":0.656},{"id":"h4","x":456,"y":0.637},{"id":"h4","x":468,"y":0.615},{"id":"h4","x":480,"y":0.59},{"id":"h4","x":492,"y":0.56},{"id":"h4","x":503,"y":0.525},{"id":"h4","x":514,"y":0.49},{"id":"h4","x":524,"y":0.455},{"id":"h4","x":534,"y":0.415},{"id":"h4","x":544,"y":0.372},{"id":"h4","x":554,"y":0.33},{"id":"h4","x":564,"y":0.29},{"id":"h4","x":574,"y":0.252},{"id":"h4","x":584,"y":0.22},{"id":"h4","x":594,"y":0.2},{"id":"h4","x":606,"y":0.185},{"id":"h4","x":618,"y":0.172},{"id":"h4","x":630,"y":0.158},{"id":"h4","x":642,"y":0.145},{"id":"h4","x":654,"y":0.132},{"id":"h4","x":666,"y":0.118},{"id":"h4","x":678,"y":0.102},{"id":"h4","x":690,"y":0.085},{"id":"h4","x":700,"y":0.07},{"id":"h4","x":708,"y":0.055},{"id":"h4","x":714,"y":0.04},{"id":"h4","x":719,"y":0.0},
  {"id":"g1","x":62,"y":0.8},{"id":"g1","x":66,"y":0.775},{"id":"g1","x":70,"y":0.757},{"id":"g1","x":76,"y":0.765},{"id":"g1","x":82,"y":0.755},{"id":"g1","x":88,"y":0.742},{"id":"g1","x":94,"y":0.752},{"id":"g1","x":100,"y":0.738},{"id":"g1","x":106,"y":0.748},{"id":"g1","x":112,"y":0.725},{"id":"g1","x":118,"y":0.72},{"id":"g1","x":126,"y":0.71},{"id":"g1","x":134,"y":0.7},{"id":"g1","x":142,"y":0.692},{"id":"g1","x":150,"y":0.684},{"id":"g1","x":160,"y":0.672},{"id":"g1","x":170,"y":0.66},{"id":"g1","x":180,"y":0.648},{"id":"g1","x":190,"y":0.638},{"id":"g1","x":200,"y":0.63},{"id":"g1","x":212,"y":0.62},{"id":"g1","x":224,"y":0.61},{"id":"g1","x":236,"y":0.6},{"id":"g1","x":248,"y":0.588},{"id":"g1","x":260,"y":0.572},{"id":"g1","x":272,"y":0.555},{"id":"g1","x":284,"y":0.54},{"id":"g1","x":296,"y":0.522},{"id":"g1","x":308,"y":0.508},{"id":"g1","x":320,"y":0.492},{"id":"g1","x":330,"y":0.48},{"id":"g1","x":338,"y":0.47},{"id":"g1","x":346,"y":0.445},{"id":"g1","x":354,"y":0.415},{"id":"g1","x":362,"y":0.395},{"id":"g1","x":372,"y":0.372},{"id":"g1","x":382,"y":0.348},{"id":"g1","x":394,"y":0.33},{"id":"g1","x":406,"y":0.315},{"id":"g1","x":418,"y":0.305},{"id":"g1","x":430,"y":0.298},{"id":"g1","x":442,"y":0.292},{"id":"g1","x":452,"y":0.305},{"id":"g1","x":460,"y":0.31},{"id":"g1","x":470,"y":0.305},{"id":"g1","x":480,"y":0.3},{"id":"g1","x":490,"y":0.285},{"id":"g1","x":500,"y":0.268},{"id":"g1","x":510,"y":0.24},{"id":"g1","x":520,"y":0.21},{"id":"g1","x":530,"y":0.175},{"id":"g1","x":540,"y":0.15},{"id":"g1","x":550,"y":0.13},{"id":"g1","x":560,"y":0.118},{"id":"g1","x":572,"y":0.1},{"id":"g1","x":584,"y":0.075},{"id":"g1","x":596,"y":0.066},{"id":"g1","x":610,"y":0.062},{"id":"g1","x":624,"y":0.056},{"id":"g1","x":638,"y":0.052},{"id":"g1","x":652,"y":0.045},{"id":"g1","x":666,"y":0.038},{"id":"g1","x":680,"y":0.028},{"id":"g1","x":692,"y":0.015},{"id":"g1","x":704,"y":0.005},
  {"id":"g2","x":59,"y":0.716},{"id":"g2","x":68,"y":0.715},{"id":"g2","x":78,"y":0.71},{"id":"g2","x":88,"y":0.705},{"id":"g2","x":97,"y":0.7},{"id":"g2","x":108,"y":0.695},{"id":"g2","x":120,"y":0.69},{"id":"g2","x":132,"y":0.682},{"id":"g2","x":143,"y":0.675},{"id":"g2","x":155,"y":0.668},{"id":"g2","x":167,"y":0.66},{"id":"g2","x":178,"y":0.652},{"id":"g2","x":189,"y":0.645},{"id":"g2","x":200,"y":0.638},{"id":"g2","x":212,"y":0.628},{"id":"g2","x":224,"y":0.62},{"id":"g2","x":235,"y":0.611},{"id":"g2","x":247,"y":0.6},{"id":"g2","x":259,"y":0.59},{"id":"g2","x":271,"y":0.582},{"id":"g2","x":282,"y":0.575},{"id":"g2","x":294,"y":0.566},{"id":"g2","x":305,"y":0.557},{"id":"g2","x":316,"y":0.548},{"id":"g2","x":328,"y":0.539},{"id":"g2","x":340,"y":0.53},{"id":"g2","x":352,"y":0.52},{"id":"g2","x":363,"y":0.511},{"id":"g2","x":375,"y":0.5},{"id":"g2","x":387,"y":0.488},{"id":"g2","x":398,"y":0.477},{"id":"g2","x":409,"y":0.466},{"id":"g2","x":420,"y":0.455},{"id":"g2","x":432,"y":0.442},{"id":"g2","x":444,"y":0.428},{"id":"g2","x":455,"y":0.413},{"id":"g2","x":466,"y":0.398},{"id":"g2","x":478,"y":0.382},{"id":"g2","x":490,"y":0.362},{"id":"g2","x":502,"y":0.335},{"id":"g2","x":513,"y":0.302},{"id":"g2","x":524,"y":0.268},{"id":"g2","x":536,"y":0.229},{"id":"g2","x":548,"y":0.188},{"id":"g2","x":559,"y":0.147},{"id":"g2","x":570,"y":0.12},{"id":"g2","x":583,"y":0.106},{"id":"g2","x":595,"y":0.1},{"id":"g2","x":608,"y":0.097},{"id":"g2","x":620,"y":0.094},{"id":"g2","x":632,"y":0.09},{"id":"g2","x":645,"y":0.082},{"id":"g2","x":658,"y":0.072},{"id":"g2","x":670,"y":0.06},{"id":"g2","x":682,"y":0.045},{"id":"g2","x":694,"y":0.028},{"id":"g2","x":704,"y":0.006},
  {"id":"g3","x":68,"y":0.63},{"id":"g3","x":72,"y":0.6},{"id":"g3","x":76,"y":0.62},{"id":"g3","x":80,"y":0.64},{"id":"g3","x":84,"y":0.615},{"id":"g3","x":88,"y":0.595},{"id":"g3","x":92,"y":0.62},{"id":"g3","x":96,"y":0.6},{"id":"g3","x":100,"y":0.612},{"id":"g3","x":106,"y":0.6},{"id":"g3","x":112,"y":0.58},{"id":"g3","x":117,"y":0.555},{"id":"g3","x":122,"y":0.568},{"id":"g3","x":127,"y":0.59},{"id":"g3","x":132,"y":0.595},{"id":"g3","x":137,"y":0.57},{"id":"g3","x":142,"y":0.56},{"id":"g3","x":148,"y":0.552},{"id":"g3","x":154,"y":0.548},{"id":"g3","x":160,"y":0.545},{"id":"g3","x":168,"y":0.535},{"id":"g3","x":176,"y":0.528},{"id":"g3","x":184,"y":0.52},{"id":"g3","x":192,"y":0.515},{"id":"g3","x":201,"y":0.511},{"id":"g3","x":212,"y":0.5},{"id":"g3","x":224,"y":0.488},{"id":"g3","x":235,"y":0.475},{"id":"g3","x":247,"y":0.468},{"id":"g3","x":259,"y":0.462},{"id":"g3","x":270,"y":0.457},{"id":"g3","x":282,"y":0.445},{"id":"g3","x":294,"y":0.432},{"id":"g3","x":305,"y":0.42},{"id":"g3","x":316,"y":0.43},{"id":"g3","x":322,"y":0.45},{"id":"g3","x":328,"y":0.472},{"id":"g3","x":334,"y":0.46},{"id":"g3","x":342,"y":0.44},{"id":"g3","x":351,"y":0.43},{"id":"g3","x":362,"y":0.412},{"id":"g3","x":374,"y":0.39},{"id":"g3","x":386,"y":0.36},{"id":"g3","x":398,"y":0.34},{"id":"g3","x":410,"y":0.322},{"id":"g3","x":421,"y":0.311},{"id":"g3","x":432,"y":0.302},{"id":"g3","x":444,"y":0.296},{"id":"g3","x":455,"y":0.293},{"id":"g3","x":466,"y":0.285},{"id":"g3","x":478,"y":0.275},{"id":"g3","x":490,"y":0.255},{"id":"g3","x":501,"y":0.229},{"id":"g3","x":513,"y":0.2},{"id":"g3","x":525,"y":0.175},{"id":"g3","x":539,"y":0.148},{"id":"g3","x":553,"y":0.12},{"id":"g3","x":568,"y":0.1},{"id":"g3","x":583,"y":0.084},{"id":"g3","x":598,"y":0.078},{"id":"g3","x":612,"y":0.072},{"id":"g3","x":626,"y":0.066},{"id":"g3","x":640,"y":0.055},{"id":"g3","x":655,"y":0.042},{"id":"g3","x":669,"y":0.029},{"id":"g3","x":686,"y":0.015},{"id":"g3","x":704,"y":0.0},
  {"id":"g4","x":73,"y":0.643},{"id":"g4","x":80,"y":0.64},{"id":"g4","x":88,"y":0.635},{"id":"g4","x":97,"y":0.63},{"id":"g4","x":108,"y":0.62},{"id":"g4","x":120,"y":0.611},{"id":"g4","x":132,"y":0.602},{"id":"g4","x":143,"y":0.593},{"id":"g4","x":155,"y":0.584},{"id":"g4","x":166,"y":0.575},{"id":"g4","x":178,"y":0.572},{"id":"g4","x":190,"y":0.568},{"id":"g4","x":201,"y":0.566},{"id":"g4","x":212,"y":0.562},{"id":"g4","x":224,"y":0.56},{"id":"g4","x":235,"y":0.557},{"id":"g4","x":247,"y":0.552},{"id":"g4","x":259,"y":0.545},{"id":"g4","x":270,"y":0.539},{"id":"g4","x":282,"y":0.532},{"id":"g4","x":294,"y":0.526},{"id":"g4","x":305,"y":0.52},{"id":"g4","x":316,"y":0.51},{"id":"g4","x":328,"y":0.498},{"id":"g4","x":340,"y":0.496},{"id":"g4","x":351,"y":0.494},{"id":"g4","x":363,"y":0.49},{"id":"g4","x":375,"y":0.48},{"id":"g4","x":386,"y":0.472},{"id":"g4","x":397,"y":0.466},{"id":"g4","x":409,"y":0.455},{"id":"g4","x":421,"y":0.442},{"id":"g4","x":432,"y":0.43},{"id":"g4","x":444,"y":0.42},{"id":"g4","x":455,"y":0.41},{"id":"g4","x":466,"y":0.4},{"id":"g4","x":478,"y":0.39},{"id":"g4","x":490,"y":0.372},{"id":"g4","x":501,"y":0.348},{"id":"g4","x":513,"y":0.322},{"id":"g4","x":525,"y":0.29},{"id":"g4","x":537,"y":0.255},{"id":"g4","x":548,"y":0.22},{"id":"g4","x":560,"y":0.182},{"id":"g4","x":571,"y":0.147},{"id":"g4","x":583,"y":0.12},{"id":"g4","x":594,"y":0.102},{"id":"g4","x":606,"y":0.095},{"id":"g4","x":618,"y":0.09},{"id":"g4","x":629,"y":0.084},{"id":"g4","x":641,"y":0.076},{"id":"g4","x":653,"y":0.068},{"id":"g4","x":664,"y":0.06},{"id":"g4","x":676,"y":0.05},{"id":"g4","x":688,"y":0.035},{"id":"g4","x":698,"y":0.02},{"id":"g4","x":704,"y":0.011}
 ],
 "eCurves": [
  {"id":"h1","x":30,"y":0.997},{"id":"h1","x":36,"y":1.009},{"id":"h1","x":42,"y":1.0},{"id":"h1","x":51,"y":0.987},{"id":"h1","x":58,"y":0.98},{"id":"h1","x":66,"y":0.974},{"id":"h1","x":74,"y":0.976},{"id":"h1","x":82,"y":0.972},{"id":"h1","x":90,"y":0.975},{"id":"h1","x":95,"y":0.974},{"id":"h1","x":104,"y":0.972},{"id":"h1","x":113,"y":0.97},{"id":"h1","x":120,"y":0.958},{"id":"h1","x":128,"y":0.948},{"id":"h1","x":136,"y":0.935},{"id":"h1","x":146,"y":0.928},{"id":"h1","x":156,"y":0.918},{"id":"h1","x":166,"y":0.909},{"id":"h1","x":176,"y":0.895},{"id":"h1","x":186,"y":0.88},{"id":"h1","x":195,"y":0.865},{"id":"h1","x":204,"y":0.86},{"id":"h1","x":213,"y":0.857},{"id":"h1","x":222,"y":0.852},{"id":"h1","x":232,"y":0.845},{"id":"h1","x":242,"y":0.839},{"id":"h1","x":252,"y":0.835},{"id":"h1","x":262,"y":0.833},{"id":"h1","x":272,"y":0.831},{"id":"h1","x":280,"y":0.836},{"id":"h1","x":286,"y":0.845},{"id":"h1","x":292,"y":0.83},{"id":"h1","x":301,"y":0.805},{"id":"h1","x":310,"y":0.805},{"id":"h1","x":318,"y":0.8},{"id":"h1","x":325,"y":0.8},{"id":"h1","x":334,"y":0.792},{"id":"h1","x":342,"y":0.786},{"id":"h1","x":348,"y":0.779},{"id":"h1","x":354,"y":0.768},{"id":"h1","x":360,"y":0.753},{"id":"h1","x":368,"y":0.74},{"id":"h1","x":378,"y":0.727},{"id":"h1","x":390,"y":0.712},{"id":"h1","x":401,"y":0.7},{"id":"h1","x":413,"y":0.688},{"id":"h1","x":425,"y":0.675},{"id":"h1","x":436,"y":0.662},{"id":"h1","x":448,"y":0.648},{"id":"h1","x":458,"y":0.636},{"id":"h1","x":468,"y":0.625},{"id":"h1","x":478,"y":0.614},{"id":"h1","x":488,"y":0.598},{"id":"h1","x":498,"y":0.583},{"id":"h1","x":507,"y":0.57},{"id":"h1","x":516,"y":0.552},{"id":"h1","x":525,"y":0.536},{"id":"h1","x":534,"y":0.514},{"id":"h1","x":542,"y":0.492},{"id":"h1","x":551,"y":0.466},{"id":"h1","x":560,"y":0.44},{"id":"h1","x":570,"y":0.395},{"id":"h1","x":581,"y":0.353},{"id":"h1","x":590,"y":0.33},{"id":"h1","x":600,"y":0.315},{"id":"h1","x":608,"y":0.3},{"id":"h1","x":613,"y":0.288},{"id":"h1","x":622,"y":0.27},{"id":"h1","x":631,"y":0.258},{"id":"h1","x":640,"y":0.236},{"id":"h1","x":648,"y":0.214},{"id":"h1","x":657,"y":0.192},{"id":"h1","x":666,"y":0.171},{"id":"h1","x":674,"y":0.145},{"id":"h1","x":681,"y":0.119},{"id":"h1","x":688,"y":0.108},{"id":"h1","x":694,"y":0.1},{"id":"h1","x":700,"y":0.093},{"id":"h1","x":703,"y":0.08},{"id":"h1","x":705,"y":0.0},
  {"id":"h2","x":45,"y":0.991},{"id":"h2","x":55,"y":0.982},{"id":"h2","x":66,"y":0.978},{"id":"h2","x":76,"y":0.975},{"id":"h2","x":86,"y":0.974},{"id":"h2","x":95,"y":0.974},{"id":"h2","x":104,"y":0.962},{"id":"h2","x":113,"y":0.952},{"id":"h2","x":125,"y":0.948},{"id":"h2","x":135,"y":0.946},{"id":"h2","x":142,"y":0.944},{"id":"h2","x":152,"y":0.935},{"id":"h2","x":162,"y":0.922},{"id":"h2","x":172,"y":0.909},{"id":"h2","x":184,"y":0.885},{"id":"h2","x":195,"y":0.857},{"id":"h2","x":204,"y":0.83},{"id":"h2","x":213,"y":0.796},{"id":"h2","x":222,"y":0.8},{"id":"h2","x":231,"y":0.805},{"id":"h2","x":242,"y":0.796},{"id":"h2","x":254,"y":0.787},{"id":"h2","x":266,"y":0.785},{"id":"h2","x":278,"y":0.782},{"id":"h2","x":289,"y":0.779},{"id":"h2","x":300,"y":0.778},{"id":"h2","x":313,"y":0.78},{"id":"h2","x":325,"y":0.778},{"id":"h2","x":336,"y":0.775},{"id":"h2","x":348,"y":0.77},{"id":"h2","x":358,"y":0.765},{"id":"h2","x":366,"y":0.762},{"id":"h2","x":369,"y":0.695},{"id":"h2","x":376,"y":0.69},{"id":"h2","x":386,"y":0.685},{"id":"h2","x":395,"y":0.68},{"id":"h2","x":407,"y":0.672},{"id":"h2","x":419,"y":0.66},{"id":"h2","x":428,"y":0.64},{"id":"h2","x":435,"y":0.6},{"id":"h2","x":442,"y":0.585},{"id":"h2","x":454,"y":0.566},{"id":"h2","x":466,"y":0.557},{"id":"h2","x":475,"y":0.545},{"id":"h2","x":484,"y":0.527},{"id":"h2","x":489,"y":0.5},{"id":"h2","x":495,"y":0.508},{"id":"h2","x":501,"y":0.514},{"id":"h2","x":510,"y":0.513},{"id":"h2","x":519,"y":0.51},{"id":"h2","x":528,"y":0.49},{"id":"h2","x":536,"y":0.466},{"id":"h2","x":545,"y":0.432},{"id":"h2","x":554,"y":0.397},{"id":"h2","x":560,"y":0.355},{"id":"h2","x":566,"y":0.31},{"id":"h2","x":571,"y":0.26},{"id":"h2","x":575,"y":0.223},{"id":"h2","x":578,"y":0.19},{"id":"h2","x":581,"y":0.162},{"id":"h2","x":585,"y":0.158},{"id":"h2","x":589,"y":0.154},{"id":"h2","x":595,"y":0.163},{"id":"h2","x":601,"y":0.171},{"id":"h2","x":610,"y":0.165},{"id":"h2","x":618,"y":0.168},{"id":"h2","x":625,"y":0.162},{"id":"h2","x":633,"y":0.15},{"id":"h2","x":642,"y":0.136},{"id":"h2","x":648,"y":0.125},{"id":"h2","x":654,"y":0.115},{"id":"h2","x":660,"y":0.112},{"id":"h2","x":666,"y":0.11},{"id":"h2","x":675,"y":0.106},{"id":"h2","x":684,"y":0.102},{"id":"h2","x":690,"y":0.098},{"id":"h2","x":694,"y":0.093},{"id":"h2","x":697,"y":0.0},
  {"id":"h3","x":30,"y":1.0},{"id":"h3","x":38,"y":0.985},{"id":"h3","x":48,"y":0.975},{"id":"h3","x":58,"y":0.972},{"id":"h3","x":66,"y":0.97},{"id":"h3","x":78,"y":0.968},{"id":"h3","x":88,"y":0.966},{"id":"h3","x":95,"y":0.965},{"id":"h3","x":105,"y":0.958},{"id":"h3","x":115,"y":0.95},{"id":"h3","x":125,"y":0.944},{"id":"h3","x":135,"y":0.935},{"id":"h3","x":148,"y":0.926},{"id":"h3","x":160,"y":0.918},{"id":"h3","x":172,"y":0.9},{"id":"h3","x":184,"y":0.882},{"id":"h3","x":195,"y":0.865},{"id":"h3","x":203,"y":0.85},{"id":"h3","x":211,"y":0.83},{"id":"h3","x":219,"y":0.813},{"id":"h3","x":228,"y":0.806},{"id":"h3","x":236,"y":0.808},{"id":"h3","x":242,"y":0.805},{"id":"h3","x":252,"y":0.8},{"id":"h3","x":262,"y":0.8},{"id":"h3","x":272,"y":0.796},{"id":"h3","x":285,"y":0.792},{"id":"h3","x":298,"y":0.79},{"id":"h3","x":313,"y":0.787},{"id":"h3","x":325,"y":0.78},{"id":"h3","x":336,"y":0.77},{"id":"h3","x":345,"y":0.75},{"id":"h3","x":353,"y":0.725},{"id":"h3","x":360,"y":0.705},{"id":"h3","x":372,"y":0.7},{"id":"h3","x":384,"y":0.7},{"id":"h3","x":395,"y":0.692},{"id":"h3","x":407,"y":0.683},{"id":"h3","x":419,"y":0.668},{"id":"h3","x":431,"y":0.648},{"id":"h3","x":437,"y":0.62},{"id":"h3","x":442,"y":0.588},{"id":"h3","x":448,"y":0.58},{"id":"h3","x":454,"y":0.575},{"id":"h3","x":460,"y":0.565},{"id":"h3","x":466,"y":0.562},{"id":"h3","x":478,"y":0.55},{"id":"h3","x":489,"y":0.536},{"id":"h3","x":500,"y":0.518},{"id":"h3","x":513,"y":0.492},{"id":"h3","x":525,"y":0.458},{"id":"h3","x":536,"y":0.423},{"id":"h3","x":545,"y":0.39},{"id":"h3","x":554,"y":0.353},{"id":"h3","x":562,"y":0.31},{"id":"h3","x":569,"y":0.266},{"id":"h3","x":575,"y":0.225},{"id":"h3","x":581,"y":0.188},{"id":"h3","x":586,"y":0.14},{"id":"h3","x":589,"y":0.11},{"id":"h3","x":598,"y":0.108},{"id":"h3","x":608,"y":0.106},{"id":"h3","x":619,"y":0.1},{"id":"h3","x":628,"y":0.075},{"id":"h3","x":636,"y":0.06},{"id":"h3","x":645,"y":0.075},{"id":"h3","x":654,"y":0.115},{"id":"h3","x":663,"y":0.11},{"id":"h3","x":672,"y":0.102},{"id":"h3","x":680,"y":0.098},{"id":"h3","x":689,"y":0.093},{"id":"h3","x":694,"y":0.09},{"id":"h3","x":696,"y":0.0},
  {"id":"g1","x":57,"y":0.944},{"id":"g1","x":64,"y":0.935},{"id":"g1","x":71,"y":0.92},{"id":"g1","x":78,"y":0.909},{"id":"g1","x":85,"y":0.925},{"id":"g1","x":92,"y":0.935},{"id":"g1","x":100,"y":0.93},{"id":"g1","x":108,"y":0.925},{"id":"g1","x":113,"y":0.918},{"id":"g1","x":122,"y":0.91},{"id":"g1","x":130,"y":0.905},{"id":"g1","x":136,"y":0.9},{"id":"g1","x":148,"y":0.89},{"id":"g1","x":160,"y":0.883},{"id":"g1","x":172,"y":0.874},{"id":"g1","x":184,"y":0.865},{"id":"g1","x":198,"y":0.852},{"id":"g1","x":213,"y":0.839},{"id":"g1","x":228,"y":0.826},{"id":"g1","x":242,"y":0.813},{"id":"g1","x":257,"y":0.796},{"id":"g1","x":272,"y":0.779},{"id":"g1","x":286,"y":0.762},{"id":"g1","x":301,"y":0.744},{"id":"g1","x":316,"y":0.722},{"id":"g1","x":331,"y":0.7},{"id":"g1","x":345,"y":0.675},{"id":"g1","x":360,"y":0.648},{"id":"g1","x":374,"y":0.62},{"id":"g1","x":389,"y":0.588},{"id":"g1","x":404,"y":0.558},{"id":"g1","x":419,"y":0.527},{"id":"g1","x":433,"y":0.5},{"id":"g1","x":448,"y":0.475},{"id":"g1","x":463,"y":0.449},{"id":"g1","x":478,"y":0.423},{"id":"g1","x":492,"y":0.397},{"id":"g1","x":507,"y":0.371},{"id":"g1","x":521,"y":0.345},{"id":"g1","x":536,"y":0.319},{"id":"g1","x":551,"y":0.288},{"id":"g1","x":566,"y":0.258},{"id":"g1","x":575,"y":0.236},{"id":"g1","x":584,"y":0.214},{"id":"g1","x":596,"y":0.196},{"id":"g1","x":607,"y":0.18},{"id":"g1","x":619,"y":0.167},{"id":"g1","x":631,"y":0.154},{"id":"g1","x":642,"y":0.137},{"id":"g1","x":654,"y":0.119},{"id":"g1","x":666,"y":0.09},{"id":"g1","x":678,"y":0.058},{"id":"g1","x":688,"y":0.03},{"id":"g1","x":695,"y":0.006},
  {"id":"g2","x":60,"y":0.952},{"id":"g2","x":66,"y":0.945},{"id":"g2","x":72,"y":0.935},{"id":"g2","x":80,"y":0.945},{"id":"g2","x":88,"y":0.93},{"id":"g2","x":96,"y":0.935},{"id":"g2","x":104,"y":0.928},{"id":"g2","x":112,"y":0.915},{"id":"g2","x":120,"y":0.91},{"id":"g2","x":128,"y":0.9},{"id":"g2","x":136,"y":0.895},{"id":"g2","x":145,"y":0.888},{"id":"g2","x":154,"y":0.883},{"id":"g2","x":165,"y":0.865},{"id":"g2","x":175,"y":0.852},{"id":"g2","x":184,"y":0.839},{"id":"g2","x":198,"y":0.822},{"id":"g2","x":213,"y":0.805},{"id":"g2","x":228,"y":0.792},{"id":"g2","x":242,"y":0.779},{"id":"g2","x":257,"y":0.757},{"id":"g2","x":272,"y":0.735},{"id":"g2","x":286,"y":0.709},{"id":"g2","x":301,"y":0.683},{"id":"g2","x":316,"y":0.657},{"id":"g2","x":331,"y":0.631},{"id":"g2","x":345,"y":0.605},{"id":"g2","x":360,"y":0.579},{"id":"g2","x":374,"y":0.553},{"id":"g2","x":389,"y":0.527},{"id":"g2","x":404,"y":0.51},{"id":"g2","x":419,"y":0.492},{"id":"g2","x":430,"y":0.49},{"id":"g2","x":442,"y":0.5},{"id":"g2","x":452,"y":0.49},{"id":"g2","x":460,"y":0.488},{"id":"g2","x":466,"y":0.44},{"id":"g2","x":472,"y":0.41},{"id":"g2","x":478,"y":0.388},{"id":"g2","x":486,"y":0.33},{"id":"g2","x":495,"y":0.266},{"id":"g2","x":504,"y":0.215},{"id":"g2","x":513,"y":0.172},{"id":"g2","x":522,"y":0.12},{"id":"g2","x":531,"y":0.072},{"id":"g2","x":540,"y":0.052},{"id":"g2","x":548,"y":0.045},{"id":"g2","x":560,"y":0.045},{"id":"g2","x":572,"y":0.048},{"id":"g2","x":584,"y":0.05},{"id":"g2","x":596,"y":0.05},{"id":"g2","x":608,"y":0.048},{"id":"g2","x":620,"y":0.047},{"id":"g2","x":632,"y":0.045},{"id":"g2","x":642,"y":0.05},{"id":"g2","x":652,"y":0.048},{"id":"g2","x":662,"y":0.042},{"id":"g2","x":672,"y":0.036},{"id":"g2","x":681,"y":0.028},{"id":"g2","x":689,"y":0.019},{"id":"g2","x":697,"y":0.008},{"id":"g2","x":701,"y":0.0},
  {"id":"g3","x":57,"y":0.807},{"id":"g3","x":60,"y":0.79},{"id":"g3","x":64,"y":0.8},{"id":"g3","x":70,"y":0.795},{"id":"g3","x":78,"y":0.787},{"id":"g3","x":86,"y":0.778},{"id":"g3","x":95,"y":0.77},{"id":"g3","x":104,"y":0.76},{"id":"g3","x":113,"y":0.753},{"id":"g3","x":124,"y":0.75},{"id":"g3","x":136,"y":0.744},{"id":"g3","x":148,"y":0.73},{"id":"g3","x":160,"y":0.718},{"id":"g3","x":172,"y":0.708},{"id":"g3","x":184,"y":0.7},{"id":"g3","x":198,"y":0.688},{"id":"g3","x":213,"y":0.675},{"id":"g3","x":224,"y":0.67},{"id":"g3","x":236,"y":0.666},{"id":"g3","x":245,"y":0.66},{"id":"g3","x":254,"y":0.648},{"id":"g3","x":266,"y":0.63},{"id":"g3","x":278,"y":0.614},{"id":"g3","x":290,"y":0.6},{"id":"g3","x":301,"y":0.588},{"id":"g3","x":313,"y":0.57},{"id":"g3","x":325,"y":0.553},{"id":"g3","x":338,"y":0.555},{"id":"g3","x":354,"y":0.562},{"id":"g3","x":366,"y":0.548},{"id":"g3","x":378,"y":0.536},{"id":"g3","x":390,"y":0.522},{"id":"g3","x":401,"y":0.51},{"id":"g3","x":410,"y":0.5},{"id":"g3","x":419,"y":0.492},{"id":"g3","x":436,"y":0.47},{"id":"g3","x":454,"y":0.45},{"id":"g3","x":472,"y":0.414},{"id":"g3","x":489,"y":0.38},{"id":"g3","x":501,"y":0.35},{"id":"g3","x":513,"y":0.32},{"id":"g3","x":525,"y":0.29},{"id":"g3","x":536,"y":0.26},{"id":"g3","x":548,"y":0.225},{"id":"g3","x":560,"y":0.19},{"id":"g3","x":572,"y":0.155},{"id":"g3","x":584,"y":0.125},{"id":"g3","x":598,"y":0.114},{"id":"g3","x":613,"y":0.11},{"id":"g3","x":630,"y":0.106},{"id":"g3","x":648,"y":0.102},{"id":"g3","x":657,"y":0.085},{"id":"g3","x":666,"y":0.067},{"id":"g3","x":678,"y":0.04},{"id":"g3","x":689,"y":0.015},{"id":"g3","x":696,"y":0.0}
 ]
},
"vconcat": [
 {
  "hconcat": [
   {
    "width": 416, "height": 365,
    "encoding": {
     "x": {"field": "x", "type": "quantitative", "scale": {"type": "log", "domain": [10, 1000], "nice": false},
      "axis": {"values": [10,20,30,40,50,60,70,80,90,100,200,300,400,500,600,700,800,900,1000], "labelExpr": "indexof([10,100,1000], datum.value) >= 0 ? format(datum.value, 'd') : ''", "tickSize": 4, "labelPadding": 6, "title": "κ̄ bulk susceptibility in μSI", "titleFontSize": 25, "titleX": 154, "titleY": 52, "titleBaseline": "middle", "titleAlign": "center"}},
     "y": {"field": "y", "type": "quantitative", "scale": {"domain": [0, 40], "nice": false},
      "axis": {"values": [0,5,10,15,20,25,30,35,40], "tickSize": 9, "labelPadding": 4, "title": "n", "titleFontStyle": "italic", "titleFontSize": 20, "titleAngle": 0, "titleX": -13, "titleY": -26, "titleAlign": "center", "titleBaseline": "middle"}}
    },
    "layer": [
     {"data": {"name": "aStoer"}, "mark": {"type": "area", "color": "#d4d4d6", "opacity": 1, "line": {"color": "#000", "strokeWidth": 1.1}}},
     {"data": {"name": "aTorr"}, "mark": {"type": "line", "color": "#000", "strokeWidth": 1.1}},
     {"data": {"values": [{"x":27.7,"y":23.3,"x2":44.6,"y2":8.95},{"x":199.3,"y":34.27,"x2":131.2,"y2":29.36}]}, "mark": {"type": "rule", "color": "#000", "strokeWidth": 2.6}, "encoding": {"x2": {"field": "x2"}, "y2": {"field": "y2"}}},
     {"data": {"values": [{"x":45.6,"y":8.14}]}, "mark": {"type": "point", "shape": "M0,0L-0.45,-1L0.45,-1Z", "filled": true, "color": "#000", "opacity": 1, "size": 784, "angle": 342}},
     {"data": {"values": [{"x":125.8,"y":28.85}]}, "mark": {"type": "point", "shape": "M0,0L-0.45,-1L0.45,-1Z", "filled": true, "color": "#000", "opacity": 1, "size": 784, "angle": 40}},
     {"data": {"values": [{"x":220.3,"y":40.66,"t":"Stoer Group"},{"x":328,"y":38.1,"t":"n = 199   κ̄ = 380 μSI"},{"x":288.4,"y":36.02,"t":"Std. Error.  = 27 μSI"},{"x":23.9,"y":33.17,"t":"Torridon Group"},{"x":25.7,"y":28.24,"t":"n = 216  κ̄ = 118 μSI"},{"x":25.2,"y":26.05,"t":"Std. Error  = 9 μSI"}]}, "mark": {"type": "text", "fontSize": 18, "align": "center", "baseline": "middle"}, "encoding": {"text": {"field": "t"}}},
     {"data": {"values": [{"x":25.9,"y":30.61,"t":"(Applecross Fm.)"}]}, "mark": {"type": "text", "fontSize": 18, "fontStyle": "italic", "align": "center", "baseline": "middle"}, "encoding": {"text": {"field": "t"}}},
     {"data": {"values": [{"x":6.18,"y":44.3,"t":"a"}]}, "mark": {"type": "text", "fontSize": 27, "fontWeight": "bold", "align": "center", "baseline": "middle"}, "encoding": {"text": {"field": "t"}}}
    ]
   },
   {
    "width": 496.6, "height": 373,
    "encoding": {
     "x": {"field": "x", "type": "quantitative", "scale": {"type": "log", "domain": [1, 1000], "nice": false},
      "axis": {"values": [1,2,3,4,5,6,7,8,9,10,20,30,40,50,60,70,80,90,100,200,300,400,500,600,700,800,900,1000], "labelExpr": "indexof([1,10,100,1000], datum.value) >= 0 ? format(datum.value, 'd') : ''", "labelFontSize": 18, "tickSize": 4, "labelPadding": 4, "title": "B (mT)", "titleFontWeight": "normal", "titleFontSize": 18, "titleX": 411, "titleY": 16, "titleBaseline": "middle", "titleAlign": "center"}},
     "y": {"field": "y", "type": "quantitative", "scale": {"domain": [0, 1.038], "nice": false},
      "axis": {"values": [0,0.2,0.4,0.6,0.8,1], "labelExpr": "datum.value == 0 ? '0' : format(datum.value, '.1f')", "labelFontSize": 18, "tickSize": 4, "labelPadding": 3, "title": "M/M₀", "titleFontSize": 18, "titleAngle": 0, "titleX": -5, "titleY": -16, "titleAlign": "center", "titleBaseline": "middle"}}
    },
    "layer": [
     {"data": {"name": "bHem"}, "mark": {"type": "area", "color": "#d9d9db", "opacity": 1}, "encoding": {"y2": {"field": "y2"}}},
     {"data": {"name": "bMag"}, "mark": {"type": "area", "color": "#5e5f63", "opacity": 1}, "encoding": {"y2": {"field": "y2"}}},
     {"data": {"name": "bCurves"}, "mark": {"type": "line", "color": "#000", "strokeWidth": 1.2}, "encoding": {"detail": {"field": "id"}}},
     {"data": {"values": [{"x":180,"y":1.002,"y2":-0.051},{"x":1000,"y":1.085,"y2":-0.074}]}, "mark": {"type": "rule", "color": "#000", "strokeWidth": 1.2, "strokeDash": [9, 6]}, "encoding": {"y2": {"field": "y2"}}},
     {"data": {"values": [{"x":78.2,"y":-0.1021,"x2":156.7,"y2":-0.0465},{"x":871,"y":-0.1021,"x2":1000,"y2":-0.0927}]}, "mark": {"type": "rule", "color": "#000", "strokeWidth": 1.1, "strokeDash": [9, 6]}, "encoding": {"x2": {"field": "x2"}, "y2": {"field": "y2"}}},
     {"data": {"values": [{"x":13.93,"x2":78.2,"y":-0.0326,"y2":-0.19},{"x":205,"x2":871,"y":-0.0648,"y2":-0.2179}]}, "mark": {"type": "rect", "fill": "#fff", "stroke": "#000", "strokeWidth": 1.1}, "encoding": {"x2": {"field": "x2"}, "y2": {"field": "y2"}}},
     {"data": {"values": [{"x":33,"y":-0.0604,"t":"180 milli-Tesla"},{"x":33,"y":-0.1039,"t":"=  Peak Operation"},{"x":33,"y":-0.1484,"t":"of SI4 demagnetizer"},{"x":422.6,"y":-0.1002,"t":"Near peak field"},{"x":422.6,"y":-0.1439,"t":"of SI-6 Pulse"},{"x":422.6,"y":-0.1856,"t":"Magnetizer"}]}, "mark": {"type": "text", "fontSize": 13.5, "fontStyle": "italic", "align": "center", "baseline": "middle"}, "encoding": {"text": {"field": "t"}}},
     {"data": {"values": [{"x":20.4,"y":1.028,"x2":20.4,"y2":0.997},{"x":243.6,"y":0.816,"x2":176,"y2":0.818},{"x":212,"y":0.8,"x2":184,"y2":0.79},{"x":115.9,"y":0.0604,"x2":82,"y2":0.064},{"x":280,"y":0.19,"x2":222,"y2":0.202},{"x":645,"y":0.5566,"x2":520,"y2":0.572}]}, "mark": {"type": "rule", "color": "#000", "strokeWidth": 1.1}, "encoding": {"x2": {"field": "x2"}, "y2": {"field": "y2"}}},
     {"data": {"values": [{"x":20.4,"y":0.991}]}, "mark": {"type": "point", "shape": "M0,0L-0.45,-1L0.45,-1Z", "filled": true, "color": "#000", "opacity": 1, "size": 300, "angle": 0}},
     {"data": {"values": [{"x":168,"y":0.818},{"x":78.2,"y":0.0648}]}, "mark": {"type": "point", "shape": "M0,0L-0.45,-1L0.45,-1Z", "filled": true, "color": "#000", "opacity": 1, "size": 300, "angle": 91}},
     {"data": {"values": [{"x":178.4,"y":0.7885}]}, "mark": {"type": "point", "shape": "M0,0L-0.45,-1L0.45,-1Z", "filled": true, "color": "#000", "opacity": 1, "size": 300, "angle": 72}},
     {"data": {"values": [{"x":216.8,"y":0.204},{"x":507,"y":0.5733}]}, "mark": {"type": "point", "shape": "M0,0L-0.45,-1L0.45,-1Z", "filled": true, "color": "#000", "opacity": 1, "size": 300, "angle": 107}},
     {"data": {"values": [{"x":54.5,"y":0.603}]}, "mark": {"type": "point", "shape": "M0,0L-0.45,-1L0.45,-1Z", "filled": true, "color": "#000", "opacity": 1, "size": 360, "angle": 330}},
     {"data": {"values": [{"x":425,"y":0.7005}]}, "mark": {"type": "point", "shape": "M0,0L-0.45,-1L0.45,-1Z", "filled": true, "color": "#000", "opacity": 1, "size": 360, "angle": 194}},
     {"data": {"values": [{"x":26.3,"y":1.05,"t":"St-0617"},{"x":370,"y":0.846,"t":"To0604"},{"x":329,"y":0.7885,"t":"To0631"},{"x":188.7,"y":0.0557,"t":"St-0617"},{"x":430,"y":0.1948,"t":"To0631"},{"x":704,"y":0.52,"t":"To0604"}]}, "mark": {"type": "text", "fontSize": 18, "align": "center", "baseline": "middle"}, "encoding": {"text": {"field": "t"}}},
     {"data": {"values": [{"x":24.7,"y":0.705,"t":"Stoer Ash"}]}, "mark": {"type": "text", "fontSize": 17, "angle": 60, "align": "center", "baseline": "middle"}, "encoding": {"text": {"field": "t"}}},
     {"data": {"values": [{"x":364.7,"y":1.025,"t":"Stoer Ash"}]}, "mark": {"type": "text", "fontSize": 19, "angle": -52, "align": "center", "baseline": "middle"}, "encoding": {"text": {"field": "t"}}},
     {"data": {"values": [{"x":270,"y":0.705,"t":"St-0624"}]}, "mark": {"type": "text", "fontSize": 18, "angle": 35, "align": "center", "baseline": "middle"}, "encoding": {"text": {"field": "t"}}},
     {"data": {"values": [{"x":71.2,"y":0.1762,"t":"St-0624"}]}, "mark": {"type": "text", "fontSize": 18, "angle": -24, "align": "center", "baseline": "middle"}, "encoding": {"text": {"field": "t"}}},
     {"data": {"values": [{"x":17,"y":0.419,"t":"Range for magnetite"}]}, "mark": {"type": "text", "fontSize": 14, "angle": -63, "color": "#8c8c8c", "align": "center", "baseline": "middle"}, "encoding": {"text": {"field": "t"}}},
     {"data": {"values": [{"x":22.4,"y":0.821,"t":"demagnetization of IRM"}]}, "mark": {"type": "text", "font": "Liberation Serif", "fontStyle": "italic", "fontSize": 15.5, "angle": 39, "align": "center", "baseline": "middle"}, "encoding": {"text": {"field": "t"}}},
     {"data": {"values": [{"x":140.8,"y":0.3738,"t":"acquisition of IRM"}]}, "mark": {"type": "text", "font": "Liberation Serif", "fontStyle": "italic", "fontSize": 15.5, "angle": -48.6, "align": "center", "baseline": "middle"}, "encoding": {"text": {"field": "t"}}},
     {"data": {"values": [{"x":717,"y":0.3387,"t":"Range for hematite"}]}, "mark": {"type": "text", "font": "Liberation Serif", "fontStyle": "italic", "fontSize": 12, "angle": -70, "color": "#777", "align": "center", "baseline": "middle"}, "encoding": {"text": {"field": "t"}}},
     {"data": {"values": [{"x":0.499,"y":1.148,"t":"b"}]}, "mark": {"type": "text", "fontSize": 27, "fontWeight": "bold", "align": "center", "baseline": "middle"}, "encoding": {"text": {"field": "t"}}}
    ]
   }
  ],
  "spacing": 117.7, "bounds": "flush", "center": true
 },
 {
  "vconcat": [
   {
    "hconcat": [
     {
      "width": 419.6, "height": 439.7,
      "encoding": {
       "x": {"field": "x", "type": "quantitative", "scale": {"domain": [0, 738], "nice": false, "zero": false},
        "axis": {"values": [0,20,40,60,80,100,120,140,160,180,200,220,240,260,280,300,320,340,360,380,400,420,440,460,480,500,520,540,560,580,600,620,640,660,680,700,720], "labelExpr": "datum.value % 100 == 0 ? format(datum.value, 'd') : ''", "tickSize": 4, "labelPadding": 7, "title": "T°C", "titleFontSize": 21, "titleX": 208, "titleY": 47, "titleBaseline": "middle", "titleAlign": "center"}},
       "y": {"field": "y", "type": "quantitative", "scale": {"domain": [0, 1], "nice": false},
        "axis": {"values": [0,0.1,0.2,0.3,0.4,0.5,0.6,0.7,0.8,0.9,1], "labelExpr": "datum.value == 0 || datum.value == 1 ? format(datum.value, 'd') : (indexof([0.2,0.4,0.6,0.8], datum.value) >= 0 ? format(datum.value, '.1f') : '')", "tickSize": 4, "labelPadding": 6, "title": "M/M₀", "titleFontSize": 18, "titleAngle": 0, "titleX": 2, "titleY": -25, "titleAlign": "center", "titleBaseline": "middle"}}
      },
      "layer": [
       {"data": {"values": [{"x":220,"y":0.968,"y2":0.63},{"x":220,"y":0.407,"y2":0.27},{"x":220,"y":0.124,"y2":0.005}]}, "mark": {"type": "rule", "color": "#444", "strokeWidth": 1.3, "strokeDash": [10, 3, 2, 3]}, "encoding": {"y2": {"field": "y2"}}},
       {"data": {"values": [{"x":570,"y":0.773,"y2":0}]}, "mark": {"type": "rule", "color": "#808080", "strokeWidth": 1.3}, "encoding": {"y2": {"field": "y2"}}},
       {"data": {"name": "cCurves"}, "transform": [{"filter": "indexof(datum.id, 'g') == 0"}], "mark": {"type": "line", "color": "#9b9b9b", "strokeWidth": 1.2}, "encoding": {"detail": {"field": "id"}}},
       {"data": {"name": "cCurves"}, "transform": [{"filter": "indexof(datum.id, 'h') == 0"}], "mark": {"type": "line", "color": "#000", "strokeWidth": 1.2}, "encoding": {"detail": {"field": "id"}}},
       {"data": {"values": [{"x":367.6,"y":1.193,"t":"Torridon Group red sandstones"},{"x":367.6,"y":1.1386,"t":"(Applecross Fm.)"}]}, "mark": {"type": "text", "fontSize": 19, "fontWeight": "bold", "align": "center", "baseline": "middle"}, "encoding": {"text": {"field": "t"}}},
       {"data": {"values": [{"x":-78.6,"y":1.2296,"t":"c"}]}, "mark": {"type": "text", "fontSize": 27, "fontWeight": "bold", "align": "center", "baseline": "middle"}, "encoding": {"text": {"field": "t"}}},
       {"data": {"values": [{"x":399.8,"y":0.7707,"t":"heating curves"}]}, "mark": {"type": "text", "fontSize": 18, "angle": 40, "align": "center", "baseline": "middle"}, "encoding": {"text": {"field": "t"}}},
       {"data": {"values": [{"x":220.9,"y":0.4573,"t":"cooling curves"}]}, "mark": {"type": "text", "fontSize": 18, "angle": 27, "align": "center", "baseline": "middle"}, "encoding": {"text": {"field": "t"}}},
       {"data": {"values": [{"x":566.8,"y":0.862},{"x":220.9,"y":0.2284}]}, "mark": {"type": "text", "fontSize": 18, "align": "left", "baseline": "middle", "dx": -23}, "encoding": {"text": {"value": "T"}}},
       {"data": {"values": [{"x":566.8,"y":0.862},{"x":220.9,"y":0.2284}]}, "mark": {"type": "text", "fontSize": 13, "align": "left", "baseline": "middle", "dx": -12, "dy": 4.5}, "encoding": {"text": {"value": "C"}}},
       {"data": {"values": [{"x":566.8,"y":0.862},{"x":220.9,"y":0.2284}]}, "mark": {"type": "text", "fontSize": 18, "align": "left", "baseline": "middle", "dx": 2}, "encoding": {"text": {"value": "for"}}},
       {"data": {"values": [{"x":568,"y":0.812,"t":"magnetite"}]}, "mark": {"type": "text", "fontSize": 18, "align": "center", "baseline": "middle"}, "encoding": {"text": {"field": "t"}}},
       {"data": {"values": [{"x":220.9,"y":0.179}]}, "mark": {"type": "text", "fontSize": 18, "align": "left", "baseline": "middle", "dx": -20}, "encoding": {"text": {"value": "TM"}}},
       {"data": {"values": [{"x":220.9,"y":0.179}]}, "mark": {"type": "text", "fontSize": 12, "align": "left", "baseline": "middle", "dx": 6.5, "dy": -6}, "encoding": {"text": {"value": "60"}}}
      ]
     },
     {
      "width": 436.6, "height": 435,
      "encoding": {
       "x": {"field": "x", "type": "quantitative", "scale": {"domain": [0, 758], "nice": false, "zero": false},
        "axis": {"values": [0,20,40,60,80,100,120,140,160,180,200,220,240,260,280,300,320,340,360,380,400,420,440,460,480,500,520,540,560,580,600,620,640,660,680,700,720,740], "labelExpr": "datum.value % 100 == 0 ? format(datum.value, 'd') : ''", "tickSize": 4, "labelPadding": 6, "title": "T°C", "titleFontSize": 21, "titleX": 218, "titleY": 47, "titleBaseline": "middle", "titleAlign": "center"}},
       "y": {"field": "y", "type": "quantitative", "scale": {"domain": [0, 1], "nice": false},
        "axis": {"values": [0,0.1,0.2,0.3,0.4,0.5,0.6,0.7,0.8,0.9,1], "labelExpr": "datum.value == 0 || datum.value == 1 ? format(datum.value, 'd') : (indexof([0.2,0.4,0.6,0.8], datum.value) >= 0 ? format(datum.value, '.1f') : '')", "tickSize": 4, "labelPadding": 5, "title": "M/M₀", "titleFontSize": 18, "titleAngle": 0, "titleX": -15, "titleY": -20, "titleAlign": "center", "titleBaseline": "middle"}}
      },
      "layer": [
       {"data": {"values": [{"x":325,"y":0.614,"y2":0.261},{"x":325,"y":0.142,"y2":0}]}, "mark": {"type": "rule", "color": "#333", "strokeWidth": 1.5, "strokeDash": [10, 6]}, "encoding": {"y2": {"field": "y2"}}},
       {"data": {"values": [{"x":588,"y":0.77,"y2":0}]}, "mark": {"type": "rule", "color": "#808080", "strokeWidth": 1.3}, "encoding": {"y2": {"field": "y2"}}},
       {"data": {"values": [{"x":702,"y":0.659,"y2":0}]}, "mark": {"type": "rule", "color": "#777", "strokeWidth": 1.2, "strokeDash": [3, 2]}, "encoding": {"y2": {"field": "y2"}}},
       {"data": {"name": "dCurves"}, "transform": [{"filter": "indexof(datum.id, 'g') == 0"}], "mark": {"type": "line", "color": "#9b9b9b", "strokeWidth": 1.2}, "encoding": {"detail": {"field": "id"}}},
       {"data": {"name": "dCurves"}, "transform": [{"filter": "indexof(datum.id, 'h') == 0"}], "mark": {"type": "line", "color": "#000", "strokeWidth": 1.2}, "encoding": {"detail": {"field": "id"}}},
       {"data": {"values": [{"x":379.8,"y":1.197,"t":"Stoer Group Red Sandstone"},{"x":379.8,"y":1.1418,"t":"(Clachtoll & Bay of Stoer Fms.)"}]}, "mark": {"type": "text", "fontSize": 19, "fontWeight": "bold", "align": "center", "baseline": "middle"}, "encoding": {"text": {"field": "t"}}},
       {"data": {"values": [{"x":-79.8,"y":1.24,"t":"d"}]}, "mark": {"type": "text", "fontSize": 27, "fontWeight": "bold", "align": "center", "baseline": "middle"}, "encoding": {"text": {"field": "t"}}},
       {"data": {"values": [{"x":296.1,"y":0.872,"t":"heating curves"}]}, "mark": {"type": "text", "fontSize": 18, "angle": 31, "align": "center", "baseline": "middle"}, "encoding": {"text": {"field": "t"}}},
       {"data": {"values": [{"x":181.6,"y":0.4637,"t":"cooling curves"}]}, "mark": {"type": "text", "fontSize": 18, "angle": 26, "align": "center", "baseline": "middle"}, "encoding": {"text": {"field": "t"}}},
       {"data": {"values": [{"x":588.4,"y":0.862},{"x":710,"y":0.734},{"x":330.8,"y":0.2338}]}, "mark": {"type": "text", "fontSize": 18, "align": "left", "baseline": "middle", "dx": -23}, "encoding": {"text": {"value": "T"}}},
       {"data": {"values": [{"x":588.4,"y":0.862},{"x":710,"y":0.734},{"x":330.8,"y":0.2338}]}, "mark": {"type": "text", "fontSize": 13, "align": "left", "baseline": "middle", "dx": -12, "dy": 4.5}, "encoding": {"text": {"value": "C"}}},
       {"data": {"values": [{"x":588.4,"y":0.862},{"x":710,"y":0.734},{"x":330.8,"y":0.2338}]}, "mark": {"type": "text", "fontSize": 18, "align": "left", "baseline": "middle", "dx": 2}, "encoding": {"text": {"value": "for"}}},
       {"data": {"values": [{"x":588.4,"y":0.812,"t":"magnetite"},{"x":710,"y":0.682,"t":"hematite"},{"x":330.8,"y":0.184,"t":"pyrrhotite"}]}, "mark": {"type": "text", "fontSize": 18, "align": "center", "baseline": "middle"}, "encoding": {"text": {"field": "t"}}}
      ]
     }
    ],
    "spacing": 115.4, "bounds": "flush", "center": true
   },
   {
    "width": 417.3, "height": 400.6,
    "encoding": {
     "x": {"field": "x", "type": "quantitative", "scale": {"domain": [0, 740], "nice": false, "zero": false},
      "axis": {"values": [0,20,40,60,80,100,120,140,160,180,200,220,240,260,280,300,320,340,360,380,400,420,440,460,480,500,520,540,560,580,600,620,640,660,680,700,720,740], "labelExpr": "datum.value % 100 == 0 ? format(datum.value, 'd') : ''", "tickSize": 4, "labelPadding": 7.5, "title": "T°C", "titleFontSize": 21, "titleX": 207, "titleY": 45, "titleBaseline": "middle", "titleAlign": "center"}},
     "y": {"field": "y", "type": "quantitative", "scale": {"domain": [0, 1], "nice": false},
      "axis": {"values": [0,0.1,0.2,0.3,0.4,0.5,0.6,0.7,0.8,0.9,1], "labelExpr": "datum.value == 0 || datum.value == 1 ? format(datum.value, 'd') : (indexof([0.2,0.4,0.6,0.8], datum.value) >= 0 ? format(datum.value, '.1f') : '')", "tickSize": 4, "labelPadding": 6, "title": null}}
    },
    "layer": [
     {"data": {"values": [{"x":216,"y":0.9585,"y2":0.4658},{"x":216,"y":0.3508,"y2":0}]}, "mark": {"type": "rule", "color": "#333", "strokeWidth": 1.3, "strokeDash": [10, 3, 2, 3]}, "encoding": {"y2": {"field": "y2"}}},
     {"data": {"values": [{"x":584,"y":0.83,"y2":0}]}, "mark": {"type": "rule", "color": "#808080", "strokeWidth": 1.3}, "encoding": {"y2": {"field": "y2"}}},
     {"data": {"values": [{"x":686,"y":0.728,"y2":0}]}, "mark": {"type": "rule", "color": "#777", "strokeWidth": 1.2, "strokeDash": [3, 2]}, "encoding": {"y2": {"field": "y2"}}},
     {"data": {"name": "eCurves"}, "transform": [{"filter": "indexof(datum.id, 'g') == 0"}], "mark": {"type": "line", "color": "#9b9b9b", "strokeWidth": 1.2}, "encoding": {"detail": {"field": "id"}}},
     {"data": {"name": "eCurves"}, "transform": [{"filter": "indexof(datum.id, 'h') == 0"}], "mark": {"type": "line", "color": "#000", "strokeWidth": 1.2}, "encoding": {"detail": {"field": "id"}}},
     {"data": {"values": [{"x":280.3,"y":1.1216,"t":"Stoer Group:"},{"x":280.3,"y":1.0584,"t":"Stac Fada Ash Flow - Mudflow"}]}, "mark": {"type": "text", "fontSize": 19, "fontWeight": "bold", "align": "center", "baseline": "middle"}, "encoding": {"text": {"field": "t"}}},
     {"data": {"values": [{"x":-79.8,"y":1.1727,"t":"e"}]}, "mark": {"type": "text", "fontSize": 27, "fontWeight": "bold", "align": "center", "baseline": "middle"}, "encoding": {"text": {"field": "t"}}},
     {"data": {"values": [{"x":478.3,"y":0.7005,"t":"heating curves"}]}, "mark": {"type": "text", "fontSize": 18, "angle": 41, "align": "center", "baseline": "middle"}, "encoding": {"text": {"field": "t"}}},
     {"data": {"values": [{"x":390.3,"y":0.406,"t":"cooling curves"}]}, "mark": {"type": "text", "fontSize": 18, "angle": 47, "align": "center", "baseline": "middle"}, "encoding": {"text": {"field": "t"}}},
     {"data": {"values": [{"x":577.6,"y":0.9486},{"x":684,"y":0.815},{"x":217,"y":0.4426}]}, "mark": {"type": "text", "fontSize": 18, "align": "left", "baseline": "middle", "dx": -23}, "encoding": {"text": {"value": "T"}}},
     {"data": {"values": [{"x":577.6,"y":0.9486},{"x":684,"y":0.815},{"x":217,"y":0.4426}]}, "mark": {"type": "text", "fontSize": 13, "align": "left", "baseline": "middle", "dx": -12, "dy": 4.5}, "encoding": {"text": {"value": "C"}}},
     {"data": {"values": [{"x":577.6,"y":0.9486},{"x":684,"y":0.815},{"x":217,"y":0.4426}]}, "mark": {"type": "text", "fontSize": 18, "align": "left", "baseline": "middle", "dx": 2}, "encoding": {"text": {"value": "for"}}},
     {"data": {"values": [{"x":577.6,"y":0.892,"t":"magnetite"},{"x":684,"y":0.763,"t":"hematite"}]}, "mark": {"type": "text", "fontSize": 18, "align": "center", "baseline": "middle"}, "encoding": {"text": {"field": "t"}}},
     {"data": {"values": [{"x":217,"y":0.391}]}, "mark": {"type": "text", "fontSize": 18, "align": "left", "baseline": "middle", "dx": -20}, "encoding": {"text": {"value": "TM"}}},
     {"data": {"values": [{"x":217,"y":0.391}]}, "mark": {"type": "text", "fontSize": 12, "align": "left", "baseline": "middle", "dx": 6.5, "dy": -6}, "encoding": {"text": {"value": "60"}}}
    ]
   }
  ],
  "spacing": 35
 }
],
"spacing": 40
}
